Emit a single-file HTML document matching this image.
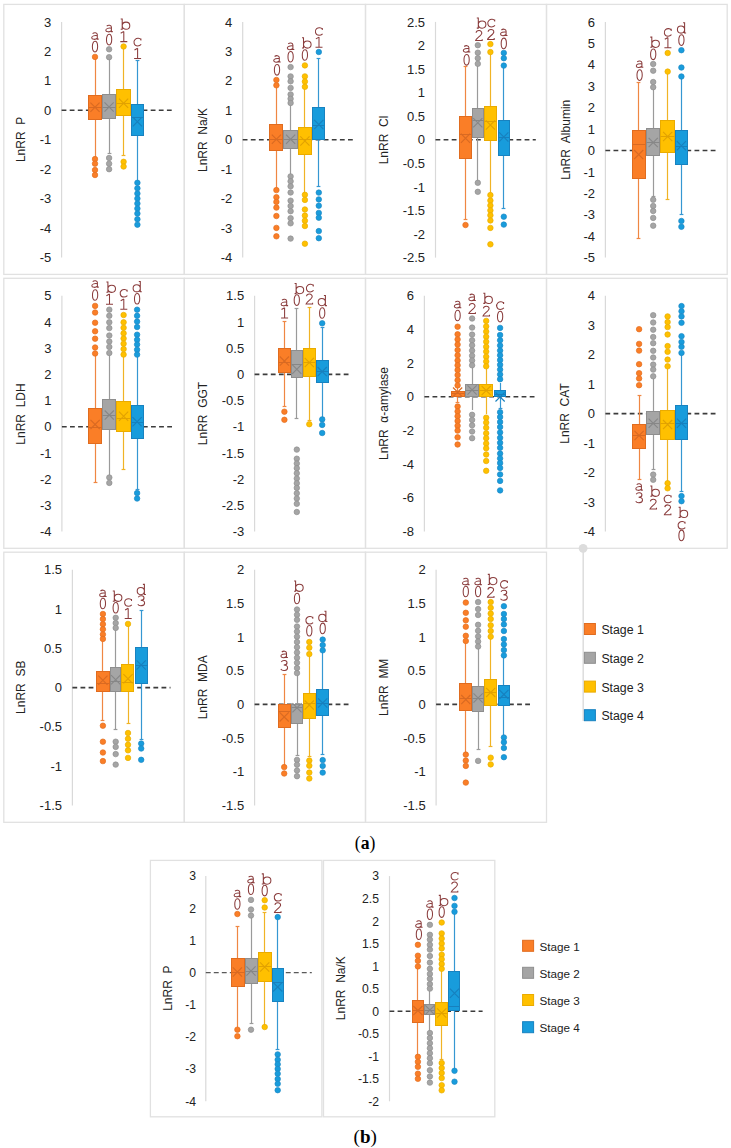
<!DOCTYPE html>
<html><head><meta charset="utf-8"><style>
html,body{margin:0;padding:0;background:#fff;}
svg{display:block;}
.tk{font-family:"Liberation Sans",sans-serif;fill:#222222;text-anchor:end;}
.tt{font-family:"Liberation Sans",sans-serif;font-size:12px;fill:#222222;white-space:pre;}
.lg{font-family:"Liberation Sans",sans-serif;fill:#222222;}
.cap{font-family:"Liberation Serif",serif;font-size:19px;fill:#000;}
.gl path{fill:none;stroke:#8A3C3C;stroke-width:1.05;stroke-linecap:butt;}
</style></head><body>
<svg width="731" height="1148" viewBox="0 0 731 1148">
<rect width="731" height="1148" fill="#fff"/>
<rect x="3.8" y="4.4" width="180.5" height="270.0" fill="none" stroke="#E1E1E1" stroke-width="1.3"/>
<line x1="61.6" y1="21.9" x2="61.6" y2="257.59999999999997" stroke="#D9D9D9" stroke-width="1.2"/>
<text x="51.2" y="26.5" class="tk" font-size="13">3</text>
<text x="51.2" y="56.0" class="tk" font-size="13">2</text>
<text x="51.2" y="85.4" class="tk" font-size="13">1</text>
<text x="51.2" y="114.9" class="tk" font-size="13">0</text>
<text x="51.2" y="144.4" class="tk" font-size="13">-1</text>
<text x="51.2" y="173.8" class="tk" font-size="13">-2</text>
<text x="51.2" y="203.3" class="tk" font-size="13">-3</text>
<text x="51.2" y="232.7" class="tk" font-size="13">-4</text>
<text x="51.2" y="262.2" class="tk" font-size="13">-5</text>
<line x1="61.6" y1="110.3" x2="173" y2="110.3" stroke="#3C3C3C" stroke-width="1.6" stroke-dasharray="4.8 3.3"/>
<text transform="translate(25.2,139.4) rotate(-90)" class="tt" text-anchor="middle">LnRR  P</text>
<line x1="95.5" y1="95" x2="95.5" y2="57.5" stroke="#EF8743" stroke-width="1.2"/>
<line x1="95.5" y1="120" x2="95.5" y2="158.5" stroke="#EF8743" stroke-width="1.2"/>
<rect x="88.5" y="95.5" width="13" height="24" fill="#FA7E27" stroke="#E06C1F" stroke-width="1"/>
<line x1="88.5" y1="107.5" x2="101.5" y2="107.5" stroke="#D96A22" stroke-width="1"/>
<path d="M90.4,102.6 L99.6,111.8 M90.4,111.8 L99.6,102.6" stroke="#D96A22" stroke-width="1.15" fill="none"/>
<circle cx="95.0" cy="56.9" r="2.75" fill="#FA7E27" stroke="#E26E20" stroke-width="0.7"/>
<circle cx="95.0" cy="159.1" r="2.75" fill="#FA7E27" stroke="#E26E20" stroke-width="0.7"/>
<circle cx="95.0" cy="163.7" r="2.75" fill="#FA7E27" stroke="#E26E20" stroke-width="0.7"/>
<circle cx="95.0" cy="170.0" r="2.75" fill="#FA7E27" stroke="#E26E20" stroke-width="0.7"/>
<circle cx="95.0" cy="175.0" r="2.75" fill="#FA7E27" stroke="#E26E20" stroke-width="0.7"/>
<line x1="109.5" y1="94" x2="109.5" y2="57.2" stroke="#9A9A9A" stroke-width="1.2"/>
<line x1="109.5" y1="119" x2="109.5" y2="153.9" stroke="#9A9A9A" stroke-width="1.2"/>
<line x1="107.6" y1="153.5" x2="111.4" y2="153.5" stroke="#9A9A9A" stroke-width="1.2"/>
<rect x="102.5" y="94.5" width="13" height="24" fill="#A5A5A5" stroke="#8E8E8E" stroke-width="1"/>
<line x1="102.5" y1="107.5" x2="115.5" y2="107.5" stroke="#878787" stroke-width="1"/>
<path d="M104.5,102.4 L113.7,111.6 M104.5,111.6 L113.7,102.4" stroke="#878787" stroke-width="1.15" fill="none"/>
<circle cx="109.1" cy="49.3" r="2.75" fill="#A5A5A5" stroke="#8F8F8F" stroke-width="0.7"/>
<circle cx="109.1" cy="57.2" r="2.75" fill="#A5A5A5" stroke="#8F8F8F" stroke-width="0.7"/>
<circle cx="109.1" cy="158.0" r="2.75" fill="#A5A5A5" stroke="#8F8F8F" stroke-width="0.7"/>
<circle cx="109.1" cy="163.7" r="2.75" fill="#A5A5A5" stroke="#8F8F8F" stroke-width="0.7"/>
<circle cx="109.1" cy="169.2" r="2.75" fill="#A5A5A5" stroke="#8F8F8F" stroke-width="0.7"/>
<line x1="123.5" y1="89" x2="123.5" y2="46.5" stroke="#F0B325" stroke-width="1.2"/>
<line x1="123.5" y1="116" x2="123.5" y2="155.2" stroke="#F0B325" stroke-width="1.2"/>
<line x1="121.6" y1="155.5" x2="125.4" y2="155.5" stroke="#F0B325" stroke-width="1.2"/>
<rect x="116.5" y="89.5" width="14" height="26" fill="#FFC000" stroke="#EAAB00" stroke-width="1"/>
<line x1="116.5" y1="103.5" x2="130.5" y2="103.5" stroke="#E2A200" stroke-width="1"/>
<path d="M119.0,98.7 L128.2,107.9 M119.0,107.9 L128.2,98.7" stroke="#E2A200" stroke-width="1.15" fill="none"/>
<circle cx="123.6" cy="46.5" r="2.75" fill="#FFC000" stroke="#E8AE00" stroke-width="0.7"/>
<circle cx="123.6" cy="161.8" r="2.75" fill="#FFC000" stroke="#E8AE00" stroke-width="0.7"/>
<circle cx="123.6" cy="166.5" r="2.75" fill="#FFC000" stroke="#E8AE00" stroke-width="0.7"/>
<line x1="137.5" y1="104" x2="137.5" y2="60.9" stroke="#3597D2" stroke-width="1.2"/>
<line x1="137.5" y1="136" x2="137.5" y2="182.8" stroke="#3597D2" stroke-width="1.2"/>
<line x1="135.6" y1="60.5" x2="139.4" y2="60.5" stroke="#3597D2" stroke-width="1.2"/>
<rect x="131.5" y="104.5" width="12" height="31" fill="#189CDC" stroke="#1882C0" stroke-width="1"/>
<line x1="131.5" y1="117.5" x2="143.5" y2="117.5" stroke="#1780BE" stroke-width="1"/>
<path d="M132.8,117.1 L142.0,126.3 M132.8,126.3 L142.0,117.1" stroke="#1780BE" stroke-width="1.15" fill="none"/>
<circle cx="137.4" cy="182.8" r="2.75" fill="#189CDC" stroke="#1C88C4" stroke-width="0.7"/>
<circle cx="137.4" cy="188.3" r="2.75" fill="#189CDC" stroke="#1C88C4" stroke-width="0.7"/>
<circle cx="137.4" cy="193.6" r="2.75" fill="#189CDC" stroke="#1C88C4" stroke-width="0.7"/>
<circle cx="137.4" cy="198.6" r="2.75" fill="#189CDC" stroke="#1C88C4" stroke-width="0.7"/>
<circle cx="137.4" cy="203.6" r="2.75" fill="#189CDC" stroke="#1C88C4" stroke-width="0.7"/>
<circle cx="137.4" cy="208.6" r="2.75" fill="#189CDC" stroke="#1C88C4" stroke-width="0.7"/>
<circle cx="137.4" cy="213.6" r="2.75" fill="#189CDC" stroke="#1C88C4" stroke-width="0.7"/>
<circle cx="137.4" cy="219.2" r="2.75" fill="#189CDC" stroke="#1C88C4" stroke-width="0.7"/>
<circle cx="137.4" cy="224.7" r="2.75" fill="#189CDC" stroke="#1C88C4" stroke-width="0.7"/>
<rect x="184.3" y="4.4" width="181.2" height="270.0" fill="none" stroke="#E1E1E1" stroke-width="1.3"/>
<line x1="242.7" y1="21.9" x2="242.7" y2="257.59999999999997" stroke="#D9D9D9" stroke-width="1.2"/>
<text x="232.3" y="26.5" class="tk" font-size="13">4</text>
<text x="232.3" y="56.0" class="tk" font-size="13">3</text>
<text x="232.3" y="85.4" class="tk" font-size="13">2</text>
<text x="232.3" y="114.9" class="tk" font-size="13">1</text>
<text x="232.3" y="144.4" class="tk" font-size="13">0</text>
<text x="232.3" y="173.8" class="tk" font-size="13">-1</text>
<text x="232.3" y="203.3" class="tk" font-size="13">-2</text>
<text x="232.3" y="232.7" class="tk" font-size="13">-3</text>
<text x="232.3" y="262.2" class="tk" font-size="13">-4</text>
<line x1="242.7" y1="139.7" x2="354.8" y2="139.7" stroke="#3C3C3C" stroke-width="1.6" stroke-dasharray="4.8 3.3"/>
<text transform="translate(206.9,140.0) rotate(-90)" class="tt" text-anchor="middle">LnRR  Na/K</text>
<line x1="276.5" y1="124" x2="276.5" y2="85.3" stroke="#EF8743" stroke-width="1.2"/>
<line x1="276.5" y1="151" x2="276.5" y2="190.1" stroke="#EF8743" stroke-width="1.2"/>
<rect x="269.5" y="124.5" width="13" height="26" fill="#FA7E27" stroke="#E06C1F" stroke-width="1"/>
<line x1="269.5" y1="139.5" x2="282.5" y2="139.5" stroke="#D96A22" stroke-width="1"/>
<path d="M271.8,134.7 L281.0,143.9 M271.8,143.9 L281.0,134.7" stroke="#D96A22" stroke-width="1.15" fill="none"/>
<circle cx="276.4" cy="80.0" r="2.75" fill="#FA7E27" stroke="#E26E20" stroke-width="0.7"/>
<circle cx="276.4" cy="85.3" r="2.75" fill="#FA7E27" stroke="#E26E20" stroke-width="0.7"/>
<circle cx="276.4" cy="190.1" r="2.75" fill="#FA7E27" stroke="#E26E20" stroke-width="0.7"/>
<circle cx="276.4" cy="197.2" r="2.75" fill="#FA7E27" stroke="#E26E20" stroke-width="0.7"/>
<circle cx="276.4" cy="201.9" r="2.75" fill="#FA7E27" stroke="#E26E20" stroke-width="0.7"/>
<circle cx="276.4" cy="207.6" r="2.75" fill="#FA7E27" stroke="#E26E20" stroke-width="0.7"/>
<circle cx="276.4" cy="216.0" r="2.75" fill="#FA7E27" stroke="#E26E20" stroke-width="0.7"/>
<circle cx="276.4" cy="227.9" r="2.75" fill="#FA7E27" stroke="#E26E20" stroke-width="0.7"/>
<circle cx="276.4" cy="236.3" r="2.75" fill="#FA7E27" stroke="#E26E20" stroke-width="0.7"/>
<line x1="290.5" y1="130" x2="290.5" y2="103" stroke="#9A9A9A" stroke-width="1.2"/>
<line x1="290.5" y1="149" x2="290.5" y2="176.4" stroke="#9A9A9A" stroke-width="1.2"/>
<rect x="283.5" y="130.5" width="14" height="18" fill="#A5A5A5" stroke="#8E8E8E" stroke-width="1"/>
<line x1="283.5" y1="139.5" x2="297.5" y2="139.5" stroke="#878787" stroke-width="1"/>
<path d="M286.0,134.7 L295.2,143.9 M286.0,143.9 L295.2,134.7" stroke="#878787" stroke-width="1.15" fill="none"/>
<circle cx="290.6" cy="67.1" r="2.75" fill="#A5A5A5" stroke="#8F8F8F" stroke-width="0.7"/>
<circle cx="290.6" cy="76.4" r="2.75" fill="#A5A5A5" stroke="#8F8F8F" stroke-width="0.7"/>
<circle cx="290.6" cy="81.3" r="2.75" fill="#A5A5A5" stroke="#8F8F8F" stroke-width="0.7"/>
<circle cx="290.6" cy="87.9" r="2.75" fill="#A5A5A5" stroke="#8F8F8F" stroke-width="0.7"/>
<circle cx="290.6" cy="94.4" r="2.75" fill="#A5A5A5" stroke="#8F8F8F" stroke-width="0.7"/>
<circle cx="290.6" cy="98.8" r="2.75" fill="#A5A5A5" stroke="#8F8F8F" stroke-width="0.7"/>
<circle cx="290.6" cy="103.0" r="2.75" fill="#A5A5A5" stroke="#8F8F8F" stroke-width="0.7"/>
<circle cx="290.6" cy="176.4" r="2.75" fill="#A5A5A5" stroke="#8F8F8F" stroke-width="0.7"/>
<circle cx="290.6" cy="181.3" r="2.75" fill="#A5A5A5" stroke="#8F8F8F" stroke-width="0.7"/>
<circle cx="290.6" cy="186.3" r="2.75" fill="#A5A5A5" stroke="#8F8F8F" stroke-width="0.7"/>
<circle cx="290.6" cy="192.5" r="2.75" fill="#A5A5A5" stroke="#8F8F8F" stroke-width="0.7"/>
<circle cx="290.6" cy="200.7" r="2.75" fill="#A5A5A5" stroke="#8F8F8F" stroke-width="0.7"/>
<circle cx="290.6" cy="206.0" r="2.75" fill="#A5A5A5" stroke="#8F8F8F" stroke-width="0.7"/>
<circle cx="290.6" cy="211.2" r="2.75" fill="#A5A5A5" stroke="#8F8F8F" stroke-width="0.7"/>
<circle cx="290.6" cy="218.2" r="2.75" fill="#A5A5A5" stroke="#8F8F8F" stroke-width="0.7"/>
<circle cx="290.6" cy="223.3" r="2.75" fill="#A5A5A5" stroke="#8F8F8F" stroke-width="0.7"/>
<circle cx="290.6" cy="238.6" r="2.75" fill="#A5A5A5" stroke="#8F8F8F" stroke-width="0.7"/>
<line x1="304.5" y1="127" x2="304.5" y2="86.8" stroke="#F0B325" stroke-width="1.2"/>
<line x1="304.5" y1="155" x2="304.5" y2="194.8" stroke="#F0B325" stroke-width="1.2"/>
<rect x="298.5" y="127.5" width="13" height="27" fill="#FFC000" stroke="#EAAB00" stroke-width="1"/>
<line x1="298.5" y1="139.5" x2="311.5" y2="139.5" stroke="#E2A200" stroke-width="1"/>
<path d="M300.3,136.4 L309.5,145.6 M300.3,145.6 L309.5,136.4" stroke="#E2A200" stroke-width="1.15" fill="none"/>
<circle cx="304.9" cy="65.4" r="2.75" fill="#FFC000" stroke="#E8AE00" stroke-width="0.7"/>
<circle cx="304.9" cy="76.4" r="2.75" fill="#FFC000" stroke="#E8AE00" stroke-width="0.7"/>
<circle cx="304.9" cy="81.6" r="2.75" fill="#FFC000" stroke="#E8AE00" stroke-width="0.7"/>
<circle cx="304.9" cy="86.8" r="2.75" fill="#FFC000" stroke="#E8AE00" stroke-width="0.7"/>
<circle cx="304.9" cy="194.8" r="2.75" fill="#FFC000" stroke="#E8AE00" stroke-width="0.7"/>
<circle cx="304.9" cy="199.9" r="2.75" fill="#FFC000" stroke="#E8AE00" stroke-width="0.7"/>
<circle cx="304.9" cy="209.5" r="2.75" fill="#FFC000" stroke="#E8AE00" stroke-width="0.7"/>
<circle cx="304.9" cy="215.6" r="2.75" fill="#FFC000" stroke="#E8AE00" stroke-width="0.7"/>
<circle cx="304.9" cy="220.7" r="2.75" fill="#FFC000" stroke="#E8AE00" stroke-width="0.7"/>
<circle cx="304.9" cy="226.0" r="2.75" fill="#FFC000" stroke="#E8AE00" stroke-width="0.7"/>
<circle cx="304.9" cy="243.7" r="2.75" fill="#FFC000" stroke="#E8AE00" stroke-width="0.7"/>
<line x1="318.5" y1="107" x2="318.5" y2="58.9" stroke="#3597D2" stroke-width="1.2"/>
<line x1="318.5" y1="140" x2="318.5" y2="186.8" stroke="#3597D2" stroke-width="1.2"/>
<line x1="316.6" y1="58.5" x2="320.4" y2="58.5" stroke="#3597D2" stroke-width="1.2"/>
<line x1="316.6" y1="186.5" x2="320.4" y2="186.5" stroke="#3597D2" stroke-width="1.2"/>
<rect x="312.5" y="107.5" width="12" height="32" fill="#189CDC" stroke="#1882C0" stroke-width="1"/>
<line x1="312.5" y1="125.5" x2="324.5" y2="125.5" stroke="#1780BE" stroke-width="1"/>
<path d="M314.2,119.9 L323.4,129.1 M314.2,129.1 L323.4,119.9" stroke="#1780BE" stroke-width="1.15" fill="none"/>
<circle cx="318.8" cy="52.0" r="2.75" fill="#189CDC" stroke="#1C88C4" stroke-width="0.7"/>
<circle cx="318.8" cy="192.6" r="2.75" fill="#189CDC" stroke="#1C88C4" stroke-width="0.7"/>
<circle cx="318.8" cy="199.4" r="2.75" fill="#189CDC" stroke="#1C88C4" stroke-width="0.7"/>
<circle cx="318.8" cy="205.7" r="2.75" fill="#189CDC" stroke="#1C88C4" stroke-width="0.7"/>
<circle cx="318.8" cy="212.9" r="2.75" fill="#189CDC" stroke="#1C88C4" stroke-width="0.7"/>
<circle cx="318.8" cy="217.7" r="2.75" fill="#189CDC" stroke="#1C88C4" stroke-width="0.7"/>
<circle cx="318.8" cy="231.1" r="2.75" fill="#189CDC" stroke="#1C88C4" stroke-width="0.7"/>
<circle cx="318.8" cy="238.2" r="2.75" fill="#189CDC" stroke="#1C88C4" stroke-width="0.7"/>
<rect x="365.5" y="4.4" width="181.0" height="270.0" fill="none" stroke="#E1E1E1" stroke-width="1.3"/>
<line x1="435.5" y1="21.9" x2="435.5" y2="257.59999999999997" stroke="#D9D9D9" stroke-width="1.2"/>
<text x="425.1" y="26.5" class="tk" font-size="13">2.5</text>
<text x="425.1" y="50.1" class="tk" font-size="13">2</text>
<text x="425.1" y="73.6" class="tk" font-size="13">1.5</text>
<text x="425.1" y="97.2" class="tk" font-size="13">1</text>
<text x="425.1" y="120.8" class="tk" font-size="13">0.5</text>
<text x="425.1" y="144.4" class="tk" font-size="13">0</text>
<text x="425.1" y="167.9" class="tk" font-size="13">-0.5</text>
<text x="425.1" y="191.5" class="tk" font-size="13">-1</text>
<text x="425.1" y="215.1" class="tk" font-size="13">-1.5</text>
<text x="425.1" y="238.6" class="tk" font-size="13">-2</text>
<text x="425.1" y="262.2" class="tk" font-size="13">-2.5</text>
<line x1="435.5" y1="139.7" x2="535.8" y2="139.7" stroke="#3C3C3C" stroke-width="1.6" stroke-dasharray="4.8 3.3"/>
<text transform="translate(387.9,140.0) rotate(-90)" class="tt" text-anchor="middle">LnRR  Cl</text>
<line x1="465.5" y1="116" x2="465.5" y2="66.7" stroke="#EF8743" stroke-width="1.2"/>
<line x1="465.5" y1="159" x2="465.5" y2="219.2" stroke="#EF8743" stroke-width="1.2"/>
<line x1="463.6" y1="66.5" x2="467.4" y2="66.5" stroke="#EF8743" stroke-width="1.2"/>
<line x1="463.6" y1="219.5" x2="467.4" y2="219.5" stroke="#EF8743" stroke-width="1.2"/>
<rect x="459.5" y="116.5" width="12" height="42" fill="#FA7E27" stroke="#E06C1F" stroke-width="1"/>
<line x1="459.5" y1="134.5" x2="471.5" y2="134.5" stroke="#D96A22" stroke-width="1"/>
<path d="M460.9,133.6 L470.1,142.8 M460.9,142.8 L470.1,133.6" stroke="#D96A22" stroke-width="1.15" fill="none"/>
<circle cx="465.5" cy="225.0" r="2.75" fill="#FA7E27" stroke="#E26E20" stroke-width="0.7"/>
<line x1="477.5" y1="108" x2="477.5" y2="63.8" stroke="#9A9A9A" stroke-width="1.2"/>
<line x1="477.5" y1="138" x2="477.5" y2="182.8" stroke="#9A9A9A" stroke-width="1.2"/>
<rect x="472.5" y="108.5" width="11" height="29" fill="#A5A5A5" stroke="#8E8E8E" stroke-width="1"/>
<line x1="472.5" y1="120.5" x2="483.5" y2="120.5" stroke="#878787" stroke-width="1"/>
<path d="M473.2,118.2 L482.4,127.4 M473.2,127.4 L482.4,118.2" stroke="#878787" stroke-width="1.15" fill="none"/>
<circle cx="477.8" cy="45.2" r="2.75" fill="#A5A5A5" stroke="#8F8F8F" stroke-width="0.7"/>
<circle cx="477.8" cy="52.7" r="2.75" fill="#A5A5A5" stroke="#8F8F8F" stroke-width="0.7"/>
<circle cx="477.8" cy="58.2" r="2.75" fill="#A5A5A5" stroke="#8F8F8F" stroke-width="0.7"/>
<circle cx="477.8" cy="63.8" r="2.75" fill="#A5A5A5" stroke="#8F8F8F" stroke-width="0.7"/>
<circle cx="477.8" cy="182.8" r="2.75" fill="#A5A5A5" stroke="#8F8F8F" stroke-width="0.7"/>
<circle cx="477.8" cy="191.8" r="2.75" fill="#A5A5A5" stroke="#8F8F8F" stroke-width="0.7"/>
<line x1="490.5" y1="106" x2="490.5" y2="52.1" stroke="#F0B325" stroke-width="1.2"/>
<line x1="490.5" y1="141" x2="490.5" y2="195.1" stroke="#F0B325" stroke-width="1.2"/>
<rect x="484.5" y="106.5" width="12" height="34" fill="#FFC000" stroke="#EAAB00" stroke-width="1"/>
<line x1="484.5" y1="121.5" x2="496.5" y2="121.5" stroke="#E2A200" stroke-width="1"/>
<path d="M485.8,120.4 L495.0,129.6 M485.8,129.6 L495.0,120.4" stroke="#E2A200" stroke-width="1.15" fill="none"/>
<circle cx="490.4" cy="44.1" r="2.75" fill="#FFC000" stroke="#E8AE00" stroke-width="0.7"/>
<circle cx="490.4" cy="52.1" r="2.75" fill="#FFC000" stroke="#E8AE00" stroke-width="0.7"/>
<circle cx="490.4" cy="195.1" r="2.75" fill="#FFC000" stroke="#E8AE00" stroke-width="0.7"/>
<circle cx="490.4" cy="200.6" r="2.75" fill="#FFC000" stroke="#E8AE00" stroke-width="0.7"/>
<circle cx="490.4" cy="205.5" r="2.75" fill="#FFC000" stroke="#E8AE00" stroke-width="0.7"/>
<circle cx="490.4" cy="210.4" r="2.75" fill="#FFC000" stroke="#E8AE00" stroke-width="0.7"/>
<circle cx="490.4" cy="215.3" r="2.75" fill="#FFC000" stroke="#E8AE00" stroke-width="0.7"/>
<circle cx="490.4" cy="220.5" r="2.75" fill="#FFC000" stroke="#E8AE00" stroke-width="0.7"/>
<circle cx="490.4" cy="227.9" r="2.75" fill="#FFC000" stroke="#E8AE00" stroke-width="0.7"/>
<circle cx="490.4" cy="244.3" r="2.75" fill="#FFC000" stroke="#E8AE00" stroke-width="0.7"/>
<line x1="503.5" y1="120" x2="503.5" y2="65.6" stroke="#3597D2" stroke-width="1.2"/>
<line x1="503.5" y1="156" x2="503.5" y2="208.2" stroke="#3597D2" stroke-width="1.2"/>
<line x1="501.6" y1="208.5" x2="505.4" y2="208.5" stroke="#3597D2" stroke-width="1.2"/>
<rect x="498.5" y="120.5" width="11" height="35" fill="#189CDC" stroke="#1882C0" stroke-width="1"/>
<line x1="498.5" y1="137.5" x2="509.5" y2="137.5" stroke="#1780BE" stroke-width="1"/>
<path d="M499.2,132.4 L508.4,141.6 M499.2,141.6 L508.4,132.4" stroke="#1780BE" stroke-width="1.15" fill="none"/>
<circle cx="503.8" cy="52.9" r="2.75" fill="#189CDC" stroke="#1C88C4" stroke-width="0.7"/>
<circle cx="503.8" cy="58.2" r="2.75" fill="#189CDC" stroke="#1C88C4" stroke-width="0.7"/>
<circle cx="503.8" cy="65.6" r="2.75" fill="#189CDC" stroke="#1C88C4" stroke-width="0.7"/>
<circle cx="503.8" cy="216.7" r="2.75" fill="#189CDC" stroke="#1C88C4" stroke-width="0.7"/>
<circle cx="503.8" cy="224.6" r="2.75" fill="#189CDC" stroke="#1C88C4" stroke-width="0.7"/>
<rect x="546.5" y="4.4" width="180.70000000000005" height="270.0" fill="none" stroke="#E1E1E1" stroke-width="1.3"/>
<line x1="605.4" y1="21.9" x2="605.4" y2="257.59999999999997" stroke="#D9D9D9" stroke-width="1.2"/>
<text x="595.0" y="26.5" class="tk" font-size="13">6</text>
<text x="595.0" y="47.9" class="tk" font-size="13">5</text>
<text x="595.0" y="69.4" class="tk" font-size="13">4</text>
<text x="595.0" y="90.8" class="tk" font-size="13">3</text>
<text x="595.0" y="112.2" class="tk" font-size="13">2</text>
<text x="595.0" y="133.6" class="tk" font-size="13">1</text>
<text x="595.0" y="155.1" class="tk" font-size="13">0</text>
<text x="595.0" y="176.5" class="tk" font-size="13">-1</text>
<text x="595.0" y="197.9" class="tk" font-size="13">-2</text>
<text x="595.0" y="219.3" class="tk" font-size="13">-3</text>
<text x="595.0" y="240.8" class="tk" font-size="13">-4</text>
<text x="595.0" y="262.2" class="tk" font-size="13">-5</text>
<line x1="605.4" y1="150.5" x2="716.8" y2="150.5" stroke="#3C3C3C" stroke-width="1.6" stroke-dasharray="4.8 3.3"/>
<text transform="translate(569.6,139.8) rotate(-90)" class="tt" text-anchor="middle">LnRR  Albumin</text>
<line x1="638.5" y1="130" x2="638.5" y2="82.8" stroke="#EF8743" stroke-width="1.2"/>
<line x1="638.5" y1="179" x2="638.5" y2="238.7" stroke="#EF8743" stroke-width="1.2"/>
<line x1="636.6" y1="82.5" x2="640.4" y2="82.5" stroke="#EF8743" stroke-width="1.2"/>
<line x1="636.6" y1="238.5" x2="640.4" y2="238.5" stroke="#EF8743" stroke-width="1.2"/>
<rect x="632.5" y="130.5" width="13" height="48" fill="#FA7E27" stroke="#E06C1F" stroke-width="1"/>
<line x1="632.5" y1="144.5" x2="645.5" y2="144.5" stroke="#D96A22" stroke-width="1"/>
<path d="M634.1,150.0 L643.3,159.2 M634.1,159.2 L643.3,150.0" stroke="#D96A22" stroke-width="1.15" fill="none"/>
<line x1="653.5" y1="128" x2="653.5" y2="87.2" stroke="#9A9A9A" stroke-width="1.2"/>
<line x1="653.5" y1="156" x2="653.5" y2="196.5" stroke="#9A9A9A" stroke-width="1.2"/>
<line x1="651.6" y1="196.5" x2="655.4" y2="196.5" stroke="#9A9A9A" stroke-width="1.2"/>
<rect x="646.5" y="128.5" width="13" height="27" fill="#A5A5A5" stroke="#8E8E8E" stroke-width="1"/>
<line x1="646.5" y1="142.5" x2="659.5" y2="142.5" stroke="#878787" stroke-width="1"/>
<path d="M648.6,137.9 L657.8,147.1 M648.6,147.1 L657.8,137.9" stroke="#878787" stroke-width="1.15" fill="none"/>
<circle cx="653.2" cy="64.0" r="2.75" fill="#A5A5A5" stroke="#8F8F8F" stroke-width="0.7"/>
<circle cx="653.2" cy="70.7" r="2.75" fill="#A5A5A5" stroke="#8F8F8F" stroke-width="0.7"/>
<circle cx="653.2" cy="82.0" r="2.75" fill="#A5A5A5" stroke="#8F8F8F" stroke-width="0.7"/>
<circle cx="653.2" cy="87.2" r="2.75" fill="#A5A5A5" stroke="#8F8F8F" stroke-width="0.7"/>
<circle cx="653.2" cy="199.8" r="2.75" fill="#A5A5A5" stroke="#8F8F8F" stroke-width="0.7"/>
<circle cx="653.2" cy="206.0" r="2.75" fill="#A5A5A5" stroke="#8F8F8F" stroke-width="0.7"/>
<circle cx="653.2" cy="211.0" r="2.75" fill="#A5A5A5" stroke="#8F8F8F" stroke-width="0.7"/>
<circle cx="653.2" cy="217.9" r="2.75" fill="#A5A5A5" stroke="#8F8F8F" stroke-width="0.7"/>
<circle cx="653.2" cy="225.7" r="2.75" fill="#A5A5A5" stroke="#8F8F8F" stroke-width="0.7"/>
<line x1="667.5" y1="120" x2="667.5" y2="71.6" stroke="#F0B325" stroke-width="1.2"/>
<line x1="667.5" y1="153" x2="667.5" y2="199.3" stroke="#F0B325" stroke-width="1.2"/>
<line x1="665.6" y1="199.5" x2="669.4" y2="199.5" stroke="#F0B325" stroke-width="1.2"/>
<rect x="660.5" y="120.5" width="14" height="32" fill="#FFC000" stroke="#EAAB00" stroke-width="1"/>
<line x1="660.5" y1="136.5" x2="674.5" y2="136.5" stroke="#E2A200" stroke-width="1"/>
<path d="M663.1,131.9 L672.3,141.1 M663.1,141.1 L672.3,131.9" stroke="#E2A200" stroke-width="1.15" fill="none"/>
<circle cx="667.7" cy="53.0" r="2.75" fill="#FFC000" stroke="#E8AE00" stroke-width="0.7"/>
<circle cx="667.7" cy="71.6" r="2.75" fill="#FFC000" stroke="#E8AE00" stroke-width="0.7"/>
<line x1="681.5" y1="130" x2="681.5" y2="76.5" stroke="#3597D2" stroke-width="1.2"/>
<line x1="681.5" y1="165" x2="681.5" y2="214.8" stroke="#3597D2" stroke-width="1.2"/>
<line x1="679.6" y1="214.5" x2="683.4" y2="214.5" stroke="#3597D2" stroke-width="1.2"/>
<rect x="675.5" y="130.5" width="12" height="34" fill="#189CDC" stroke="#1882C0" stroke-width="1"/>
<line x1="675.5" y1="146.5" x2="687.5" y2="146.5" stroke="#1780BE" stroke-width="1"/>
<path d="M676.8,141.2 L686.0,150.4 M676.8,150.4 L686.0,141.2" stroke="#1780BE" stroke-width="1.15" fill="none"/>
<circle cx="681.4" cy="50.2" r="2.75" fill="#189CDC" stroke="#1C88C4" stroke-width="0.7"/>
<circle cx="681.4" cy="67.5" r="2.75" fill="#189CDC" stroke="#1C88C4" stroke-width="0.7"/>
<circle cx="681.4" cy="76.5" r="2.75" fill="#189CDC" stroke="#1C88C4" stroke-width="0.7"/>
<circle cx="681.4" cy="221.0" r="2.75" fill="#189CDC" stroke="#1C88C4" stroke-width="0.7"/>
<circle cx="681.4" cy="226.8" r="2.75" fill="#189CDC" stroke="#1C88C4" stroke-width="0.7"/>
<rect x="3.8" y="278.3" width="180.5" height="269.99999999999994" fill="none" stroke="#E1E1E1" stroke-width="1.3"/>
<line x1="61.9" y1="295.8" x2="61.9" y2="531.5" stroke="#D9D9D9" stroke-width="1.2"/>
<text x="51.5" y="300.4" class="tk" font-size="13">5</text>
<text x="51.5" y="326.6" class="tk" font-size="13">4</text>
<text x="51.5" y="352.8" class="tk" font-size="13">3</text>
<text x="51.5" y="379.0" class="tk" font-size="13">2</text>
<text x="51.5" y="405.2" class="tk" font-size="13">1</text>
<text x="51.5" y="431.3" class="tk" font-size="13">0</text>
<text x="51.5" y="457.5" class="tk" font-size="13">-1</text>
<text x="51.5" y="483.7" class="tk" font-size="13">-2</text>
<text x="51.5" y="509.9" class="tk" font-size="13">-3</text>
<text x="51.5" y="536.1" class="tk" font-size="13">-4</text>
<line x1="61.9" y1="426.7" x2="173" y2="426.7" stroke="#3C3C3C" stroke-width="1.6" stroke-dasharray="4.8 3.3"/>
<text transform="translate(25.2,414.0) rotate(-90)" class="tt" text-anchor="middle">LnRR  LDH</text>
<line x1="95.5" y1="408" x2="95.5" y2="353.5" stroke="#EF8743" stroke-width="1.2"/>
<line x1="95.5" y1="444" x2="95.5" y2="482.0" stroke="#EF8743" stroke-width="1.2"/>
<line x1="93.6" y1="482.5" x2="97.4" y2="482.5" stroke="#EF8743" stroke-width="1.2"/>
<rect x="88.5" y="408.5" width="13" height="35" fill="#FA7E27" stroke="#E06C1F" stroke-width="1"/>
<line x1="88.5" y1="427.5" x2="101.5" y2="427.5" stroke="#D96A22" stroke-width="1"/>
<path d="M90.5,419.8 L99.7,429.0 M90.5,429.0 L99.7,419.8" stroke="#D96A22" stroke-width="1.15" fill="none"/>
<circle cx="95.1" cy="305.9" r="2.75" fill="#FA7E27" stroke="#E26E20" stroke-width="0.7"/>
<circle cx="95.1" cy="312.5" r="2.75" fill="#FA7E27" stroke="#E26E20" stroke-width="0.7"/>
<circle cx="95.1" cy="322.7" r="2.75" fill="#FA7E27" stroke="#E26E20" stroke-width="0.7"/>
<circle cx="95.1" cy="331.3" r="2.75" fill="#FA7E27" stroke="#E26E20" stroke-width="0.7"/>
<circle cx="95.1" cy="338.7" r="2.75" fill="#FA7E27" stroke="#E26E20" stroke-width="0.7"/>
<circle cx="95.1" cy="347.5" r="2.75" fill="#FA7E27" stroke="#E26E20" stroke-width="0.7"/>
<circle cx="95.1" cy="353.5" r="2.75" fill="#FA7E27" stroke="#E26E20" stroke-width="0.7"/>
<line x1="109.5" y1="399" x2="109.5" y2="353.0" stroke="#9A9A9A" stroke-width="1.2"/>
<line x1="109.5" y1="430" x2="109.5" y2="477.5" stroke="#9A9A9A" stroke-width="1.2"/>
<rect x="102.5" y="399.5" width="13" height="30" fill="#A5A5A5" stroke="#8E8E8E" stroke-width="1"/>
<line x1="102.5" y1="415.5" x2="115.5" y2="415.5" stroke="#878787" stroke-width="1"/>
<path d="M104.7,410.5 L113.9,419.7 M104.7,419.7 L113.9,410.5" stroke="#878787" stroke-width="1.15" fill="none"/>
<circle cx="109.3" cy="309.7" r="2.75" fill="#A5A5A5" stroke="#8F8F8F" stroke-width="0.7"/>
<circle cx="109.3" cy="315.8" r="2.75" fill="#A5A5A5" stroke="#8F8F8F" stroke-width="0.7"/>
<circle cx="109.3" cy="322.3" r="2.75" fill="#A5A5A5" stroke="#8F8F8F" stroke-width="0.7"/>
<circle cx="109.3" cy="328.1" r="2.75" fill="#A5A5A5" stroke="#8F8F8F" stroke-width="0.7"/>
<circle cx="109.3" cy="335.5" r="2.75" fill="#A5A5A5" stroke="#8F8F8F" stroke-width="0.7"/>
<circle cx="109.3" cy="341.5" r="2.75" fill="#A5A5A5" stroke="#8F8F8F" stroke-width="0.7"/>
<circle cx="109.3" cy="346.9" r="2.75" fill="#A5A5A5" stroke="#8F8F8F" stroke-width="0.7"/>
<circle cx="109.3" cy="353.0" r="2.75" fill="#A5A5A5" stroke="#8F8F8F" stroke-width="0.7"/>
<circle cx="109.3" cy="477.5" r="2.75" fill="#A5A5A5" stroke="#8F8F8F" stroke-width="0.7"/>
<circle cx="109.3" cy="482.9" r="2.75" fill="#A5A5A5" stroke="#8F8F8F" stroke-width="0.7"/>
<line x1="123.5" y1="401" x2="123.5" y2="354.6" stroke="#F0B325" stroke-width="1.2"/>
<line x1="123.5" y1="432" x2="123.5" y2="469.8" stroke="#F0B325" stroke-width="1.2"/>
<line x1="121.6" y1="469.5" x2="125.4" y2="469.5" stroke="#F0B325" stroke-width="1.2"/>
<rect x="116.5" y="401.5" width="14" height="30" fill="#FFC000" stroke="#EAAB00" stroke-width="1"/>
<line x1="116.5" y1="418.5" x2="130.5" y2="418.5" stroke="#E2A200" stroke-width="1"/>
<path d="M119.0,411.6 L128.2,420.8 M119.0,420.8 L128.2,411.6" stroke="#E2A200" stroke-width="1.15" fill="none"/>
<circle cx="123.6" cy="315.0" r="2.75" fill="#FFC000" stroke="#E8AE00" stroke-width="0.7"/>
<circle cx="123.6" cy="322.3" r="2.75" fill="#FFC000" stroke="#E8AE00" stroke-width="0.7"/>
<circle cx="123.6" cy="327.8" r="2.75" fill="#FFC000" stroke="#E8AE00" stroke-width="0.7"/>
<circle cx="123.6" cy="333.3" r="2.75" fill="#FFC000" stroke="#E8AE00" stroke-width="0.7"/>
<circle cx="123.6" cy="338.5" r="2.75" fill="#FFC000" stroke="#E8AE00" stroke-width="0.7"/>
<circle cx="123.6" cy="343.7" r="2.75" fill="#FFC000" stroke="#E8AE00" stroke-width="0.7"/>
<circle cx="123.6" cy="349.1" r="2.75" fill="#FFC000" stroke="#E8AE00" stroke-width="0.7"/>
<circle cx="123.6" cy="354.6" r="2.75" fill="#FFC000" stroke="#E8AE00" stroke-width="0.7"/>
<line x1="137.5" y1="405" x2="137.5" y2="354.6" stroke="#3597D2" stroke-width="1.2"/>
<line x1="137.5" y1="439" x2="137.5" y2="489.5" stroke="#3597D2" stroke-width="1.2"/>
<line x1="135.6" y1="489.5" x2="139.4" y2="489.5" stroke="#3597D2" stroke-width="1.2"/>
<rect x="131.5" y="405.5" width="12" height="33" fill="#189CDC" stroke="#1882C0" stroke-width="1"/>
<line x1="131.5" y1="422.5" x2="143.5" y2="422.5" stroke="#1780BE" stroke-width="1"/>
<path d="M132.5,417.1 L141.7,426.3 M132.5,426.3 L141.7,417.1" stroke="#1780BE" stroke-width="1.15" fill="none"/>
<circle cx="137.1" cy="309.7" r="2.75" fill="#189CDC" stroke="#1C88C4" stroke-width="0.7"/>
<circle cx="137.1" cy="315.8" r="2.75" fill="#189CDC" stroke="#1C88C4" stroke-width="0.7"/>
<circle cx="137.1" cy="321.6" r="2.75" fill="#189CDC" stroke="#1C88C4" stroke-width="0.7"/>
<circle cx="137.1" cy="327.0" r="2.75" fill="#189CDC" stroke="#1C88C4" stroke-width="0.7"/>
<circle cx="137.1" cy="334.7" r="2.75" fill="#189CDC" stroke="#1C88C4" stroke-width="0.7"/>
<circle cx="137.1" cy="339.8" r="2.75" fill="#189CDC" stroke="#1C88C4" stroke-width="0.7"/>
<circle cx="137.1" cy="344.5" r="2.75" fill="#189CDC" stroke="#1C88C4" stroke-width="0.7"/>
<circle cx="137.1" cy="349.7" r="2.75" fill="#189CDC" stroke="#1C88C4" stroke-width="0.7"/>
<circle cx="137.1" cy="354.6" r="2.75" fill="#189CDC" stroke="#1C88C4" stroke-width="0.7"/>
<circle cx="137.1" cy="493.1" r="2.75" fill="#189CDC" stroke="#1C88C4" stroke-width="0.7"/>
<circle cx="137.1" cy="498.5" r="2.75" fill="#189CDC" stroke="#1C88C4" stroke-width="0.7"/>
<rect x="184.3" y="278.3" width="181.2" height="269.99999999999994" fill="none" stroke="#E1E1E1" stroke-width="1.3"/>
<line x1="254.6" y1="295.8" x2="254.6" y2="531.5" stroke="#D9D9D9" stroke-width="1.2"/>
<text x="244.2" y="300.4" class="tk" font-size="13">1.5</text>
<text x="244.2" y="326.6" class="tk" font-size="13">1</text>
<text x="244.2" y="352.8" class="tk" font-size="13">0.5</text>
<text x="244.2" y="379.0" class="tk" font-size="13">0</text>
<text x="244.2" y="405.2" class="tk" font-size="13">-0.5</text>
<text x="244.2" y="431.3" class="tk" font-size="13">-1</text>
<text x="244.2" y="457.5" class="tk" font-size="13">-1.5</text>
<text x="244.2" y="483.7" class="tk" font-size="13">-2</text>
<text x="244.2" y="509.9" class="tk" font-size="13">-2.5</text>
<text x="244.2" y="536.1" class="tk" font-size="13">-3</text>
<line x1="254.6" y1="374.4" x2="350.8" y2="374.4" stroke="#3C3C3C" stroke-width="1.6" stroke-dasharray="4.8 3.3"/>
<text transform="translate(206.9,413.5) rotate(-90)" class="tt" text-anchor="middle">LnRR  GGT</text>
<line x1="284.5" y1="348" x2="284.5" y2="321.4" stroke="#EF8743" stroke-width="1.2"/>
<line x1="284.5" y1="373" x2="284.5" y2="406.4" stroke="#EF8743" stroke-width="1.2"/>
<line x1="282.6" y1="321.5" x2="286.4" y2="321.5" stroke="#EF8743" stroke-width="1.2"/>
<line x1="282.6" y1="406.5" x2="286.4" y2="406.5" stroke="#EF8743" stroke-width="1.2"/>
<rect x="278.5" y="348.5" width="12" height="24" fill="#FA7E27" stroke="#E06C1F" stroke-width="1"/>
<line x1="278.5" y1="362.5" x2="290.5" y2="362.5" stroke="#D96A22" stroke-width="1"/>
<path d="M279.8,356.5 L289.0,365.7 M279.8,365.7 L289.0,356.5" stroke="#D96A22" stroke-width="1.15" fill="none"/>
<circle cx="284.4" cy="411.7" r="2.75" fill="#FA7E27" stroke="#E26E20" stroke-width="0.7"/>
<circle cx="284.4" cy="419.8" r="2.75" fill="#FA7E27" stroke="#E26E20" stroke-width="0.7"/>
<line x1="296.5" y1="350" x2="296.5" y2="308.7" stroke="#9A9A9A" stroke-width="1.2"/>
<line x1="296.5" y1="378" x2="296.5" y2="418.2" stroke="#9A9A9A" stroke-width="1.2"/>
<line x1="294.6" y1="308.5" x2="298.4" y2="308.5" stroke="#9A9A9A" stroke-width="1.2"/>
<line x1="294.6" y1="418.5" x2="298.4" y2="418.5" stroke="#9A9A9A" stroke-width="1.2"/>
<rect x="291.5" y="350.5" width="11" height="27" fill="#A5A5A5" stroke="#8E8E8E" stroke-width="1"/>
<line x1="291.5" y1="364.5" x2="302.5" y2="364.5" stroke="#878787" stroke-width="1"/>
<path d="M292.2,364.6 L301.4,373.8 M292.2,373.8 L301.4,364.6" stroke="#878787" stroke-width="1.15" fill="none"/>
<circle cx="296.8" cy="449.6" r="2.75" fill="#A5A5A5" stroke="#8F8F8F" stroke-width="0.7"/>
<circle cx="296.8" cy="458.7" r="2.75" fill="#A5A5A5" stroke="#8F8F8F" stroke-width="0.7"/>
<circle cx="296.8" cy="463.5" r="2.75" fill="#A5A5A5" stroke="#8F8F8F" stroke-width="0.7"/>
<circle cx="296.8" cy="468.2" r="2.75" fill="#A5A5A5" stroke="#8F8F8F" stroke-width="0.7"/>
<circle cx="296.8" cy="473.3" r="2.75" fill="#A5A5A5" stroke="#8F8F8F" stroke-width="0.7"/>
<circle cx="296.8" cy="478.5" r="2.75" fill="#A5A5A5" stroke="#8F8F8F" stroke-width="0.7"/>
<circle cx="296.8" cy="483.3" r="2.75" fill="#A5A5A5" stroke="#8F8F8F" stroke-width="0.7"/>
<circle cx="296.8" cy="487.9" r="2.75" fill="#A5A5A5" stroke="#8F8F8F" stroke-width="0.7"/>
<circle cx="296.8" cy="493.3" r="2.75" fill="#A5A5A5" stroke="#8F8F8F" stroke-width="0.7"/>
<circle cx="296.8" cy="498.5" r="2.75" fill="#A5A5A5" stroke="#8F8F8F" stroke-width="0.7"/>
<circle cx="296.8" cy="503.8" r="2.75" fill="#A5A5A5" stroke="#8F8F8F" stroke-width="0.7"/>
<circle cx="296.8" cy="512.0" r="2.75" fill="#A5A5A5" stroke="#8F8F8F" stroke-width="0.7"/>
<line x1="309.5" y1="348" x2="309.5" y2="307.8" stroke="#F0B325" stroke-width="1.2"/>
<line x1="309.5" y1="377" x2="309.5" y2="420.8" stroke="#F0B325" stroke-width="1.2"/>
<line x1="307.6" y1="307.5" x2="311.4" y2="307.5" stroke="#F0B325" stroke-width="1.2"/>
<line x1="307.6" y1="420.5" x2="311.4" y2="420.5" stroke="#F0B325" stroke-width="1.2"/>
<rect x="303.5" y="348.5" width="12" height="28" fill="#FFC000" stroke="#EAAB00" stroke-width="1"/>
<line x1="303.5" y1="362.5" x2="315.5" y2="362.5" stroke="#E2A200" stroke-width="1"/>
<path d="M304.7,357.9 L313.9,367.1 M304.7,367.1 L313.9,357.9" stroke="#E2A200" stroke-width="1.15" fill="none"/>
<circle cx="309.3" cy="424.2" r="2.75" fill="#FFC000" stroke="#E8AE00" stroke-width="0.7"/>
<line x1="322.5" y1="360" x2="322.5" y2="327.4" stroke="#3597D2" stroke-width="1.2"/>
<line x1="322.5" y1="383" x2="322.5" y2="417.0" stroke="#3597D2" stroke-width="1.2"/>
<line x1="320.6" y1="327.5" x2="324.4" y2="327.5" stroke="#3597D2" stroke-width="1.2"/>
<line x1="320.6" y1="417.5" x2="324.4" y2="417.5" stroke="#3597D2" stroke-width="1.2"/>
<rect x="316.5" y="360.5" width="12" height="22" fill="#189CDC" stroke="#1882C0" stroke-width="1"/>
<line x1="316.5" y1="371.5" x2="328.5" y2="371.5" stroke="#1780BE" stroke-width="1"/>
<path d="M317.6,367.0 L326.8,376.2 M317.6,376.2 L326.8,367.0" stroke="#1780BE" stroke-width="1.15" fill="none"/>
<circle cx="322.2" cy="323.3" r="2.75" fill="#189CDC" stroke="#1C88C4" stroke-width="0.7"/>
<circle cx="322.2" cy="419.4" r="2.75" fill="#189CDC" stroke="#1C88C4" stroke-width="0.7"/>
<circle cx="322.2" cy="424.9" r="2.75" fill="#189CDC" stroke="#1C88C4" stroke-width="0.7"/>
<circle cx="322.2" cy="433.0" r="2.75" fill="#189CDC" stroke="#1C88C4" stroke-width="0.7"/>
<rect x="365.5" y="278.3" width="181.0" height="269.99999999999994" fill="none" stroke="#E1E1E1" stroke-width="1.3"/>
<line x1="424.4" y1="295.8" x2="424.4" y2="531.5" stroke="#D9D9D9" stroke-width="1.2"/>
<text x="414.0" y="300.4" class="tk" font-size="13">6</text>
<text x="414.0" y="334.1" class="tk" font-size="13">4</text>
<text x="414.0" y="367.7" class="tk" font-size="13">2</text>
<text x="414.0" y="401.4" class="tk" font-size="13">0</text>
<text x="414.0" y="435.1" class="tk" font-size="13">-2</text>
<text x="414.0" y="468.8" class="tk" font-size="13">-4</text>
<text x="414.0" y="502.4" class="tk" font-size="13">-6</text>
<text x="414.0" y="536.1" class="tk" font-size="13">-8</text>
<line x1="424.4" y1="396.8" x2="535.8" y2="396.8" stroke="#3C3C3C" stroke-width="1.6" stroke-dasharray="4.8 3.3"/>
<text transform="translate(387.9,413.5) rotate(-90)" class="tt" text-anchor="middle">LnRR  α-amylase</text>
<line x1="457.5" y1="391" x2="457.5" y2="386.5" stroke="#EF8743" stroke-width="1.2"/>
<line x1="457.5" y1="397" x2="457.5" y2="402.5" stroke="#EF8743" stroke-width="1.2"/>
<line x1="455.6" y1="402.5" x2="459.4" y2="402.5" stroke="#EF8743" stroke-width="1.2"/>
<rect x="451.5" y="391.5" width="13" height="5" fill="#FA7E27" stroke="#E06C1F" stroke-width="1"/>
<line x1="451.5" y1="393.5" x2="464.5" y2="393.5" stroke="#D96A22" stroke-width="1"/>
<path d="M453.0,387.5 L462.2,396.7 M453.0,396.7 L462.2,387.5" stroke="#D96A22" stroke-width="1.15" fill="none"/>
<circle cx="457.6" cy="326.7" r="2.75" fill="#FA7E27" stroke="#E26E20" stroke-width="0.7"/>
<circle cx="457.6" cy="334.3" r="2.75" fill="#FA7E27" stroke="#E26E20" stroke-width="0.7"/>
<circle cx="457.6" cy="339.4" r="2.75" fill="#FA7E27" stroke="#E26E20" stroke-width="0.7"/>
<circle cx="457.6" cy="344.6" r="2.75" fill="#FA7E27" stroke="#E26E20" stroke-width="0.7"/>
<circle cx="457.6" cy="350.1" r="2.75" fill="#FA7E27" stroke="#E26E20" stroke-width="0.7"/>
<circle cx="457.6" cy="355.3" r="2.75" fill="#FA7E27" stroke="#E26E20" stroke-width="0.7"/>
<circle cx="457.6" cy="360.5" r="2.75" fill="#FA7E27" stroke="#E26E20" stroke-width="0.7"/>
<circle cx="457.6" cy="365.3" r="2.75" fill="#FA7E27" stroke="#E26E20" stroke-width="0.7"/>
<circle cx="457.6" cy="370.1" r="2.75" fill="#FA7E27" stroke="#E26E20" stroke-width="0.7"/>
<circle cx="457.6" cy="375.1" r="2.75" fill="#FA7E27" stroke="#E26E20" stroke-width="0.7"/>
<circle cx="457.6" cy="380.2" r="2.75" fill="#FA7E27" stroke="#E26E20" stroke-width="0.7"/>
<circle cx="457.6" cy="385.4" r="2.75" fill="#FA7E27" stroke="#E26E20" stroke-width="0.7"/>
<circle cx="457.6" cy="406.5" r="2.75" fill="#FA7E27" stroke="#E26E20" stroke-width="0.7"/>
<circle cx="457.6" cy="411.4" r="2.75" fill="#FA7E27" stroke="#E26E20" stroke-width="0.7"/>
<circle cx="457.6" cy="416.2" r="2.75" fill="#FA7E27" stroke="#E26E20" stroke-width="0.7"/>
<circle cx="457.6" cy="421.0" r="2.75" fill="#FA7E27" stroke="#E26E20" stroke-width="0.7"/>
<circle cx="457.6" cy="425.8" r="2.75" fill="#FA7E27" stroke="#E26E20" stroke-width="0.7"/>
<circle cx="457.6" cy="430.6" r="2.75" fill="#FA7E27" stroke="#E26E20" stroke-width="0.7"/>
<circle cx="457.6" cy="437.3" r="2.75" fill="#FA7E27" stroke="#E26E20" stroke-width="0.7"/>
<circle cx="457.6" cy="444.5" r="2.75" fill="#FA7E27" stroke="#E26E20" stroke-width="0.7"/>
<line x1="472.5" y1="384" x2="472.5" y2="365.3" stroke="#9A9A9A" stroke-width="1.2"/>
<line x1="472.5" y1="397" x2="472.5" y2="410.0" stroke="#9A9A9A" stroke-width="1.2"/>
<rect x="465.5" y="384.5" width="13" height="12" fill="#A5A5A5" stroke="#8E8E8E" stroke-width="1"/>
<line x1="465.5" y1="390.5" x2="478.5" y2="390.5" stroke="#878787" stroke-width="1"/>
<path d="M467.5,385.4 L476.7,394.6 M467.5,394.6 L476.7,385.4" stroke="#878787" stroke-width="1.15" fill="none"/>
<circle cx="472.1" cy="318.5" r="2.75" fill="#A5A5A5" stroke="#8F8F8F" stroke-width="0.7"/>
<circle cx="472.1" cy="327.6" r="2.75" fill="#A5A5A5" stroke="#8F8F8F" stroke-width="0.7"/>
<circle cx="472.1" cy="334.6" r="2.75" fill="#A5A5A5" stroke="#8F8F8F" stroke-width="0.7"/>
<circle cx="472.1" cy="340.3" r="2.75" fill="#A5A5A5" stroke="#8F8F8F" stroke-width="0.7"/>
<circle cx="472.1" cy="345.3" r="2.75" fill="#A5A5A5" stroke="#8F8F8F" stroke-width="0.7"/>
<circle cx="472.1" cy="350.6" r="2.75" fill="#A5A5A5" stroke="#8F8F8F" stroke-width="0.7"/>
<circle cx="472.1" cy="355.7" r="2.75" fill="#A5A5A5" stroke="#8F8F8F" stroke-width="0.7"/>
<circle cx="472.1" cy="360.5" r="2.75" fill="#A5A5A5" stroke="#8F8F8F" stroke-width="0.7"/>
<circle cx="472.1" cy="365.3" r="2.75" fill="#A5A5A5" stroke="#8F8F8F" stroke-width="0.7"/>
<circle cx="472.1" cy="414.8" r="2.75" fill="#A5A5A5" stroke="#8F8F8F" stroke-width="0.7"/>
<circle cx="472.1" cy="419.9" r="2.75" fill="#A5A5A5" stroke="#8F8F8F" stroke-width="0.7"/>
<circle cx="472.1" cy="425.3" r="2.75" fill="#A5A5A5" stroke="#8F8F8F" stroke-width="0.7"/>
<circle cx="472.1" cy="431.5" r="2.75" fill="#A5A5A5" stroke="#8F8F8F" stroke-width="0.7"/>
<circle cx="472.1" cy="438.2" r="2.75" fill="#A5A5A5" stroke="#8F8F8F" stroke-width="0.7"/>
<line x1="486.5" y1="384" x2="486.5" y2="366.3" stroke="#F0B325" stroke-width="1.2"/>
<line x1="486.5" y1="397" x2="486.5" y2="414.0" stroke="#F0B325" stroke-width="1.2"/>
<rect x="479.5" y="384.5" width="13" height="12" fill="#FFC000" stroke="#EAAB00" stroke-width="1"/>
<line x1="479.5" y1="390.5" x2="492.5" y2="390.5" stroke="#E2A200" stroke-width="1"/>
<path d="M481.6,385.9 L490.8,395.1 M481.6,395.1 L490.8,385.9" stroke="#E2A200" stroke-width="1.15" fill="none"/>
<circle cx="486.2" cy="320.9" r="2.75" fill="#FFC000" stroke="#E8AE00" stroke-width="0.7"/>
<circle cx="486.2" cy="326.4" r="2.75" fill="#FFC000" stroke="#E8AE00" stroke-width="0.7"/>
<circle cx="486.2" cy="331.6" r="2.75" fill="#FFC000" stroke="#E8AE00" stroke-width="0.7"/>
<circle cx="486.2" cy="336.7" r="2.75" fill="#FFC000" stroke="#E8AE00" stroke-width="0.7"/>
<circle cx="486.2" cy="341.7" r="2.75" fill="#FFC000" stroke="#E8AE00" stroke-width="0.7"/>
<circle cx="486.2" cy="346.8" r="2.75" fill="#FFC000" stroke="#E8AE00" stroke-width="0.7"/>
<circle cx="486.2" cy="351.6" r="2.75" fill="#FFC000" stroke="#E8AE00" stroke-width="0.7"/>
<circle cx="486.2" cy="356.7" r="2.75" fill="#FFC000" stroke="#E8AE00" stroke-width="0.7"/>
<circle cx="486.2" cy="361.5" r="2.75" fill="#FFC000" stroke="#E8AE00" stroke-width="0.7"/>
<circle cx="486.2" cy="366.3" r="2.75" fill="#FFC000" stroke="#E8AE00" stroke-width="0.7"/>
<circle cx="486.2" cy="417.7" r="2.75" fill="#FFC000" stroke="#E8AE00" stroke-width="0.7"/>
<circle cx="486.2" cy="422.6" r="2.75" fill="#FFC000" stroke="#E8AE00" stroke-width="0.7"/>
<circle cx="486.2" cy="427.7" r="2.75" fill="#FFC000" stroke="#E8AE00" stroke-width="0.7"/>
<circle cx="486.2" cy="433.3" r="2.75" fill="#FFC000" stroke="#E8AE00" stroke-width="0.7"/>
<circle cx="486.2" cy="438.2" r="2.75" fill="#FFC000" stroke="#E8AE00" stroke-width="0.7"/>
<circle cx="486.2" cy="443.5" r="2.75" fill="#FFC000" stroke="#E8AE00" stroke-width="0.7"/>
<circle cx="486.2" cy="448.3" r="2.75" fill="#FFC000" stroke="#E8AE00" stroke-width="0.7"/>
<circle cx="486.2" cy="454.5" r="2.75" fill="#FFC000" stroke="#E8AE00" stroke-width="0.7"/>
<circle cx="486.2" cy="461.0" r="2.75" fill="#FFC000" stroke="#E8AE00" stroke-width="0.7"/>
<circle cx="486.2" cy="470.8" r="2.75" fill="#FFC000" stroke="#E8AE00" stroke-width="0.7"/>
<line x1="500.5" y1="390" x2="500.5" y2="383.0" stroke="#3597D2" stroke-width="1.2"/>
<line x1="500.5" y1="397" x2="500.5" y2="408.2" stroke="#3597D2" stroke-width="1.2"/>
<line x1="498.6" y1="408.5" x2="502.4" y2="408.5" stroke="#3597D2" stroke-width="1.2"/>
<rect x="494.5" y="390.5" width="11" height="6" fill="#189CDC" stroke="#1882C0" stroke-width="1"/>
<line x1="494.5" y1="394.5" x2="505.5" y2="394.5" stroke="#1780BE" stroke-width="1"/>
<path d="M495.5,392.3 L504.7,401.5 M495.5,401.5 L504.7,392.3" stroke="#1780BE" stroke-width="1.15" fill="none"/>
<circle cx="500.1" cy="327.9" r="2.75" fill="#189CDC" stroke="#1C88C4" stroke-width="0.7"/>
<circle cx="500.1" cy="335.0" r="2.75" fill="#189CDC" stroke="#1C88C4" stroke-width="0.7"/>
<circle cx="500.1" cy="340.3" r="2.75" fill="#189CDC" stroke="#1C88C4" stroke-width="0.7"/>
<circle cx="500.1" cy="345.5" r="2.75" fill="#189CDC" stroke="#1C88C4" stroke-width="0.7"/>
<circle cx="500.1" cy="350.6" r="2.75" fill="#189CDC" stroke="#1C88C4" stroke-width="0.7"/>
<circle cx="500.1" cy="355.3" r="2.75" fill="#189CDC" stroke="#1C88C4" stroke-width="0.7"/>
<circle cx="500.1" cy="360.1" r="2.75" fill="#189CDC" stroke="#1C88C4" stroke-width="0.7"/>
<circle cx="500.1" cy="364.8" r="2.75" fill="#189CDC" stroke="#1C88C4" stroke-width="0.7"/>
<circle cx="500.1" cy="369.6" r="2.75" fill="#189CDC" stroke="#1C88C4" stroke-width="0.7"/>
<circle cx="500.1" cy="374.4" r="2.75" fill="#189CDC" stroke="#1C88C4" stroke-width="0.7"/>
<circle cx="500.1" cy="379.2" r="2.75" fill="#189CDC" stroke="#1C88C4" stroke-width="0.7"/>
<circle cx="500.1" cy="412.2" r="2.75" fill="#189CDC" stroke="#1C88C4" stroke-width="0.7"/>
<circle cx="500.1" cy="417.0" r="2.75" fill="#189CDC" stroke="#1C88C4" stroke-width="0.7"/>
<circle cx="500.1" cy="422.0" r="2.75" fill="#189CDC" stroke="#1C88C4" stroke-width="0.7"/>
<circle cx="500.1" cy="427.0" r="2.75" fill="#189CDC" stroke="#1C88C4" stroke-width="0.7"/>
<circle cx="500.1" cy="432.4" r="2.75" fill="#189CDC" stroke="#1C88C4" stroke-width="0.7"/>
<circle cx="500.1" cy="437.8" r="2.75" fill="#189CDC" stroke="#1C88C4" stroke-width="0.7"/>
<circle cx="500.1" cy="442.8" r="2.75" fill="#189CDC" stroke="#1C88C4" stroke-width="0.7"/>
<circle cx="500.1" cy="447.8" r="2.75" fill="#189CDC" stroke="#1C88C4" stroke-width="0.7"/>
<circle cx="500.1" cy="453.6" r="2.75" fill="#189CDC" stroke="#1C88C4" stroke-width="0.7"/>
<circle cx="500.1" cy="458.4" r="2.75" fill="#189CDC" stroke="#1C88C4" stroke-width="0.7"/>
<circle cx="500.1" cy="463.1" r="2.75" fill="#189CDC" stroke="#1C88C4" stroke-width="0.7"/>
<circle cx="500.1" cy="467.9" r="2.75" fill="#189CDC" stroke="#1C88C4" stroke-width="0.7"/>
<circle cx="500.1" cy="474.4" r="2.75" fill="#189CDC" stroke="#1C88C4" stroke-width="0.7"/>
<circle cx="500.1" cy="480.9" r="2.75" fill="#189CDC" stroke="#1C88C4" stroke-width="0.7"/>
<circle cx="500.1" cy="490.4" r="2.75" fill="#189CDC" stroke="#1C88C4" stroke-width="0.7"/>
<rect x="546.5" y="278.3" width="180.70000000000005" height="269.99999999999994" fill="none" stroke="#E1E1E1" stroke-width="1.3"/>
<line x1="605.4" y1="295.8" x2="605.4" y2="531.5" stroke="#D9D9D9" stroke-width="1.2"/>
<text x="595.0" y="300.4" class="tk" font-size="13">4</text>
<text x="595.0" y="329.9" class="tk" font-size="13">3</text>
<text x="595.0" y="359.3" class="tk" font-size="13">2</text>
<text x="595.0" y="388.8" class="tk" font-size="13">1</text>
<text x="595.0" y="418.3" class="tk" font-size="13">0</text>
<text x="595.0" y="447.7" class="tk" font-size="13">-1</text>
<text x="595.0" y="477.2" class="tk" font-size="13">-2</text>
<text x="595.0" y="506.6" class="tk" font-size="13">-3</text>
<text x="595.0" y="536.1" class="tk" font-size="13">-4</text>
<line x1="605.4" y1="413.6" x2="717.3" y2="413.6" stroke="#3C3C3C" stroke-width="1.6" stroke-dasharray="4.8 3.3"/>
<text transform="translate(569.1,413.5) rotate(-90)" class="tt" text-anchor="middle">LnRR  CAT</text>
<line x1="639.5" y1="424" x2="639.5" y2="395.5" stroke="#EF8743" stroke-width="1.2"/>
<line x1="639.5" y1="449" x2="639.5" y2="479.4" stroke="#EF8743" stroke-width="1.2"/>
<line x1="637.6" y1="395.5" x2="641.4" y2="395.5" stroke="#EF8743" stroke-width="1.2"/>
<line x1="637.6" y1="479.5" x2="641.4" y2="479.5" stroke="#EF8743" stroke-width="1.2"/>
<rect x="632.5" y="424.5" width="13" height="24" fill="#FA7E27" stroke="#E06C1F" stroke-width="1"/>
<line x1="632.5" y1="435.5" x2="645.5" y2="435.5" stroke="#D96A22" stroke-width="1"/>
<path d="M634.5,430.9 L643.7,440.1 M634.5,440.1 L643.7,430.9" stroke="#D96A22" stroke-width="1.15" fill="none"/>
<circle cx="639.1" cy="329.2" r="2.75" fill="#FA7E27" stroke="#E26E20" stroke-width="0.7"/>
<circle cx="639.1" cy="343.9" r="2.75" fill="#FA7E27" stroke="#E26E20" stroke-width="0.7"/>
<circle cx="639.1" cy="350.6" r="2.75" fill="#FA7E27" stroke="#E26E20" stroke-width="0.7"/>
<circle cx="639.1" cy="364.2" r="2.75" fill="#FA7E27" stroke="#E26E20" stroke-width="0.7"/>
<circle cx="639.1" cy="373.2" r="2.75" fill="#FA7E27" stroke="#E26E20" stroke-width="0.7"/>
<circle cx="639.1" cy="378.5" r="2.75" fill="#FA7E27" stroke="#E26E20" stroke-width="0.7"/>
<circle cx="639.1" cy="385.2" r="2.75" fill="#FA7E27" stroke="#E26E20" stroke-width="0.7"/>
<line x1="653.5" y1="411" x2="653.5" y2="376.3" stroke="#9A9A9A" stroke-width="1.2"/>
<line x1="653.5" y1="435" x2="653.5" y2="469.8" stroke="#9A9A9A" stroke-width="1.2"/>
<line x1="651.6" y1="469.5" x2="655.4" y2="469.5" stroke="#9A9A9A" stroke-width="1.2"/>
<rect x="646.5" y="411.5" width="13" height="23" fill="#A5A5A5" stroke="#8E8E8E" stroke-width="1"/>
<line x1="646.5" y1="423.5" x2="659.5" y2="423.5" stroke="#878787" stroke-width="1"/>
<path d="M648.6,418.6 L657.8,427.8 M648.6,427.8 L657.8,418.6" stroke="#878787" stroke-width="1.15" fill="none"/>
<circle cx="653.2" cy="315.2" r="2.75" fill="#A5A5A5" stroke="#8F8F8F" stroke-width="0.7"/>
<circle cx="653.2" cy="322.5" r="2.75" fill="#A5A5A5" stroke="#8F8F8F" stroke-width="0.7"/>
<circle cx="653.2" cy="329.7" r="2.75" fill="#A5A5A5" stroke="#8F8F8F" stroke-width="0.7"/>
<circle cx="653.2" cy="337.0" r="2.75" fill="#A5A5A5" stroke="#8F8F8F" stroke-width="0.7"/>
<circle cx="653.2" cy="343.2" r="2.75" fill="#A5A5A5" stroke="#8F8F8F" stroke-width="0.7"/>
<circle cx="653.2" cy="350.8" r="2.75" fill="#A5A5A5" stroke="#8F8F8F" stroke-width="0.7"/>
<circle cx="653.2" cy="357.5" r="2.75" fill="#A5A5A5" stroke="#8F8F8F" stroke-width="0.7"/>
<circle cx="653.2" cy="364.6" r="2.75" fill="#A5A5A5" stroke="#8F8F8F" stroke-width="0.7"/>
<circle cx="653.2" cy="369.6" r="2.75" fill="#A5A5A5" stroke="#8F8F8F" stroke-width="0.7"/>
<circle cx="653.2" cy="376.3" r="2.75" fill="#A5A5A5" stroke="#8F8F8F" stroke-width="0.7"/>
<circle cx="653.2" cy="474.6" r="2.75" fill="#A5A5A5" stroke="#8F8F8F" stroke-width="0.7"/>
<circle cx="653.2" cy="479.8" r="2.75" fill="#A5A5A5" stroke="#8F8F8F" stroke-width="0.7"/>
<line x1="667.5" y1="410" x2="667.5" y2="366.3" stroke="#F0B325" stroke-width="1.2"/>
<line x1="667.5" y1="440" x2="667.5" y2="483.2" stroke="#F0B325" stroke-width="1.2"/>
<rect x="660.5" y="410.5" width="14" height="29" fill="#FFC000" stroke="#EAAB00" stroke-width="1"/>
<line x1="660.5" y1="423.5" x2="674.5" y2="423.5" stroke="#E2A200" stroke-width="1"/>
<path d="M663.0,420.0 L672.2,429.2 M663.0,429.2 L672.2,420.0" stroke="#E2A200" stroke-width="1.15" fill="none"/>
<circle cx="667.6" cy="316.4" r="2.75" fill="#FFC000" stroke="#E8AE00" stroke-width="0.7"/>
<circle cx="667.6" cy="322.1" r="2.75" fill="#FFC000" stroke="#E8AE00" stroke-width="0.7"/>
<circle cx="667.6" cy="327.1" r="2.75" fill="#FFC000" stroke="#E8AE00" stroke-width="0.7"/>
<circle cx="667.6" cy="334.5" r="2.75" fill="#FFC000" stroke="#E8AE00" stroke-width="0.7"/>
<circle cx="667.6" cy="346.1" r="2.75" fill="#FFC000" stroke="#E8AE00" stroke-width="0.7"/>
<circle cx="667.6" cy="351.8" r="2.75" fill="#FFC000" stroke="#E8AE00" stroke-width="0.7"/>
<circle cx="667.6" cy="359.6" r="2.75" fill="#FFC000" stroke="#E8AE00" stroke-width="0.7"/>
<circle cx="667.6" cy="366.3" r="2.75" fill="#FFC000" stroke="#E8AE00" stroke-width="0.7"/>
<circle cx="667.6" cy="483.2" r="2.75" fill="#FFC000" stroke="#E8AE00" stroke-width="0.7"/>
<circle cx="667.6" cy="488.3" r="2.75" fill="#FFC000" stroke="#E8AE00" stroke-width="0.7"/>
<line x1="681.5" y1="405" x2="681.5" y2="352.9" stroke="#3597D2" stroke-width="1.2"/>
<line x1="681.5" y1="440" x2="681.5" y2="491.3" stroke="#3597D2" stroke-width="1.2"/>
<line x1="679.6" y1="491.5" x2="683.4" y2="491.5" stroke="#3597D2" stroke-width="1.2"/>
<rect x="675.5" y="405.5" width="12" height="34" fill="#189CDC" stroke="#1882C0" stroke-width="1"/>
<line x1="675.5" y1="423.5" x2="687.5" y2="423.5" stroke="#1780BE" stroke-width="1"/>
<path d="M676.9,418.6 L686.1,427.8 M676.9,427.8 L686.1,418.6" stroke="#1780BE" stroke-width="1.15" fill="none"/>
<circle cx="681.5" cy="306.1" r="2.75" fill="#189CDC" stroke="#1C88C4" stroke-width="0.7"/>
<circle cx="681.5" cy="311.3" r="2.75" fill="#189CDC" stroke="#1C88C4" stroke-width="0.7"/>
<circle cx="681.5" cy="316.4" r="2.75" fill="#189CDC" stroke="#1C88C4" stroke-width="0.7"/>
<circle cx="681.5" cy="322.8" r="2.75" fill="#189CDC" stroke="#1C88C4" stroke-width="0.7"/>
<circle cx="681.5" cy="336.2" r="2.75" fill="#189CDC" stroke="#1C88C4" stroke-width="0.7"/>
<circle cx="681.5" cy="342.0" r="2.75" fill="#189CDC" stroke="#1C88C4" stroke-width="0.7"/>
<circle cx="681.5" cy="346.8" r="2.75" fill="#189CDC" stroke="#1C88C4" stroke-width="0.7"/>
<circle cx="681.5" cy="352.9" r="2.75" fill="#189CDC" stroke="#1C88C4" stroke-width="0.7"/>
<circle cx="681.5" cy="496.1" r="2.75" fill="#189CDC" stroke="#1C88C4" stroke-width="0.7"/>
<circle cx="681.5" cy="501.2" r="2.75" fill="#189CDC" stroke="#1C88C4" stroke-width="0.7"/>
<rect x="3.8" y="552.2" width="180.5" height="270.0999999999999" fill="none" stroke="#E1E1E1" stroke-width="1.3"/>
<line x1="72.4" y1="569.7" x2="72.4" y2="805.4000000000001" stroke="#D9D9D9" stroke-width="1.2"/>
<text x="62.0" y="574.3" class="tk" font-size="13">1.5</text>
<text x="62.0" y="613.6" class="tk" font-size="13">1</text>
<text x="62.0" y="652.9" class="tk" font-size="13">0.5</text>
<text x="62.0" y="692.2" class="tk" font-size="13">0</text>
<text x="62.0" y="731.4" class="tk" font-size="13">-0.5</text>
<text x="62.0" y="770.7" class="tk" font-size="13">-1</text>
<text x="62.0" y="810.0" class="tk" font-size="13">-1.5</text>
<line x1="72.4" y1="687.6" x2="170.5" y2="687.6" stroke="#3C3C3C" stroke-width="1.6" stroke-dasharray="4.8 3.3"/>
<text transform="translate(25.2,687.3) rotate(-90)" class="tt" text-anchor="middle">LnRR  SB</text>
<line x1="102.5" y1="671" x2="102.5" y2="638.9" stroke="#EF8743" stroke-width="1.2"/>
<line x1="102.5" y1="692" x2="102.5" y2="720.6" stroke="#EF8743" stroke-width="1.2"/>
<line x1="100.6" y1="720.5" x2="104.4" y2="720.5" stroke="#EF8743" stroke-width="1.2"/>
<rect x="96.5" y="671.5" width="13" height="20" fill="#FA7E27" stroke="#E06C1F" stroke-width="1"/>
<line x1="96.5" y1="683.5" x2="109.5" y2="683.5" stroke="#D96A22" stroke-width="1"/>
<path d="M98.3,675.6 L107.5,684.8 M98.3,684.8 L107.5,675.6" stroke="#D96A22" stroke-width="1.15" fill="none"/>
<circle cx="102.9" cy="614.0" r="2.75" fill="#FA7E27" stroke="#E26E20" stroke-width="0.7"/>
<circle cx="102.9" cy="619.1" r="2.75" fill="#FA7E27" stroke="#E26E20" stroke-width="0.7"/>
<circle cx="102.9" cy="624.2" r="2.75" fill="#FA7E27" stroke="#E26E20" stroke-width="0.7"/>
<circle cx="102.9" cy="629.3" r="2.75" fill="#FA7E27" stroke="#E26E20" stroke-width="0.7"/>
<circle cx="102.9" cy="634.4" r="2.75" fill="#FA7E27" stroke="#E26E20" stroke-width="0.7"/>
<circle cx="102.9" cy="638.9" r="2.75" fill="#FA7E27" stroke="#E26E20" stroke-width="0.7"/>
<circle cx="102.9" cy="725.7" r="2.75" fill="#FA7E27" stroke="#E26E20" stroke-width="0.7"/>
<circle cx="102.9" cy="741.7" r="2.75" fill="#FA7E27" stroke="#E26E20" stroke-width="0.7"/>
<circle cx="102.9" cy="752.5" r="2.75" fill="#FA7E27" stroke="#E26E20" stroke-width="0.7"/>
<circle cx="102.9" cy="761.1" r="2.75" fill="#FA7E27" stroke="#E26E20" stroke-width="0.7"/>
<line x1="115.5" y1="667" x2="115.5" y2="627.9" stroke="#9A9A9A" stroke-width="1.2"/>
<line x1="115.5" y1="692" x2="115.5" y2="729.9" stroke="#9A9A9A" stroke-width="1.2"/>
<line x1="113.6" y1="729.5" x2="117.4" y2="729.5" stroke="#9A9A9A" stroke-width="1.2"/>
<rect x="110.5" y="667.5" width="10" height="24" fill="#A5A5A5" stroke="#8E8E8E" stroke-width="1"/>
<line x1="110.5" y1="681.5" x2="120.5" y2="681.5" stroke="#878787" stroke-width="1"/>
<path d="M111.1,675.1 L120.3,684.3 M111.1,684.3 L120.3,675.1" stroke="#878787" stroke-width="1.15" fill="none"/>
<circle cx="115.7" cy="617.8" r="2.75" fill="#A5A5A5" stroke="#8F8F8F" stroke-width="0.7"/>
<circle cx="115.7" cy="623.1" r="2.75" fill="#A5A5A5" stroke="#8F8F8F" stroke-width="0.7"/>
<circle cx="115.7" cy="627.9" r="2.75" fill="#A5A5A5" stroke="#8F8F8F" stroke-width="0.7"/>
<circle cx="115.7" cy="741.7" r="2.75" fill="#A5A5A5" stroke="#8F8F8F" stroke-width="0.7"/>
<circle cx="115.7" cy="746.9" r="2.75" fill="#A5A5A5" stroke="#8F8F8F" stroke-width="0.7"/>
<circle cx="115.7" cy="754.1" r="2.75" fill="#A5A5A5" stroke="#8F8F8F" stroke-width="0.7"/>
<circle cx="115.7" cy="764.6" r="2.75" fill="#A5A5A5" stroke="#8F8F8F" stroke-width="0.7"/>
<line x1="128.5" y1="664" x2="128.5" y2="623.9" stroke="#F0B325" stroke-width="1.2"/>
<line x1="128.5" y1="692" x2="128.5" y2="723.7" stroke="#F0B325" stroke-width="1.2"/>
<line x1="126.6" y1="723.5" x2="130.4" y2="723.5" stroke="#F0B325" stroke-width="1.2"/>
<rect x="121.5" y="664.5" width="12" height="27" fill="#FFC000" stroke="#EAAB00" stroke-width="1"/>
<line x1="121.5" y1="682.5" x2="133.5" y2="682.5" stroke="#E2A200" stroke-width="1"/>
<path d="M123.4,674.2 L132.6,683.4 M123.4,683.4 L132.6,674.2" stroke="#E2A200" stroke-width="1.15" fill="none"/>
<circle cx="128.0" cy="623.9" r="2.75" fill="#FFC000" stroke="#E8AE00" stroke-width="0.7"/>
<circle cx="128.0" cy="733.0" r="2.75" fill="#FFC000" stroke="#E8AE00" stroke-width="0.7"/>
<circle cx="128.0" cy="738.8" r="2.75" fill="#FFC000" stroke="#E8AE00" stroke-width="0.7"/>
<circle cx="128.0" cy="744.8" r="2.75" fill="#FFC000" stroke="#E8AE00" stroke-width="0.7"/>
<circle cx="128.0" cy="750.3" r="2.75" fill="#FFC000" stroke="#E8AE00" stroke-width="0.7"/>
<circle cx="128.0" cy="757.9" r="2.75" fill="#FFC000" stroke="#E8AE00" stroke-width="0.7"/>
<line x1="141.5" y1="647" x2="141.5" y2="610.2" stroke="#3597D2" stroke-width="1.2"/>
<line x1="141.5" y1="684" x2="141.5" y2="739.5" stroke="#3597D2" stroke-width="1.2"/>
<line x1="139.6" y1="610.5" x2="143.4" y2="610.5" stroke="#3597D2" stroke-width="1.2"/>
<line x1="139.6" y1="739.5" x2="143.4" y2="739.5" stroke="#3597D2" stroke-width="1.2"/>
<rect x="135.5" y="647.5" width="12" height="36" fill="#189CDC" stroke="#1882C0" stroke-width="1"/>
<line x1="135.5" y1="665.5" x2="147.5" y2="665.5" stroke="#1780BE" stroke-width="1"/>
<path d="M136.6,660.4 L145.8,669.6 M136.6,669.6 L145.8,660.4" stroke="#1780BE" stroke-width="1.15" fill="none"/>
<circle cx="141.2" cy="743.6" r="2.75" fill="#189CDC" stroke="#1C88C4" stroke-width="0.7"/>
<circle cx="141.2" cy="748.5" r="2.75" fill="#189CDC" stroke="#1C88C4" stroke-width="0.7"/>
<circle cx="141.2" cy="759.8" r="2.75" fill="#189CDC" stroke="#1C88C4" stroke-width="0.7"/>
<rect x="184.3" y="552.2" width="181.2" height="270.0999999999999" fill="none" stroke="#E1E1E1" stroke-width="1.3"/>
<line x1="254.6" y1="569.7" x2="254.6" y2="805.4000000000001" stroke="#D9D9D9" stroke-width="1.2"/>
<text x="244.2" y="574.3" class="tk" font-size="13">2</text>
<text x="244.2" y="608.0" class="tk" font-size="13">1.5</text>
<text x="244.2" y="641.6" class="tk" font-size="13">1</text>
<text x="244.2" y="675.3" class="tk" font-size="13">0.5</text>
<text x="244.2" y="709.0" class="tk" font-size="13">0</text>
<text x="244.2" y="742.7" class="tk" font-size="13">-0.5</text>
<text x="244.2" y="776.3" class="tk" font-size="13">-1</text>
<text x="244.2" y="810.0" class="tk" font-size="13">-1.5</text>
<line x1="254.6" y1="704.4" x2="350.8" y2="704.4" stroke="#3C3C3C" stroke-width="1.6" stroke-dasharray="4.8 3.3"/>
<text transform="translate(206.9,687.3) rotate(-90)" class="tt" text-anchor="middle">LnRR  MDA</text>
<line x1="284.5" y1="704" x2="284.5" y2="674.0" stroke="#EF8743" stroke-width="1.2"/>
<line x1="284.5" y1="728" x2="284.5" y2="767.1" stroke="#EF8743" stroke-width="1.2"/>
<line x1="282.6" y1="674.5" x2="286.4" y2="674.5" stroke="#EF8743" stroke-width="1.2"/>
<rect x="278.5" y="704.5" width="12" height="23" fill="#FA7E27" stroke="#E06C1F" stroke-width="1"/>
<line x1="278.5" y1="711.5" x2="290.5" y2="711.5" stroke="#D96A22" stroke-width="1"/>
<path d="M279.6,712.3 L288.8,721.5 M279.6,721.5 L288.8,712.3" stroke="#D96A22" stroke-width="1.15" fill="none"/>
<circle cx="284.2" cy="767.1" r="2.75" fill="#FA7E27" stroke="#E26E20" stroke-width="0.7"/>
<circle cx="284.2" cy="773.5" r="2.75" fill="#FA7E27" stroke="#E26E20" stroke-width="0.7"/>
<line x1="297.5" y1="704" x2="297.5" y2="673.1" stroke="#9A9A9A" stroke-width="1.2"/>
<line x1="297.5" y1="724" x2="297.5" y2="755.3" stroke="#9A9A9A" stroke-width="1.2"/>
<line x1="295.6" y1="755.5" x2="299.4" y2="755.5" stroke="#9A9A9A" stroke-width="1.2"/>
<rect x="291.5" y="704.5" width="11" height="19" fill="#A5A5A5" stroke="#8E8E8E" stroke-width="1"/>
<line x1="291.5" y1="707.5" x2="302.5" y2="707.5" stroke="#878787" stroke-width="1"/>
<path d="M292.4,703.2 L301.6,712.4 M292.4,712.4 L301.6,703.2" stroke="#878787" stroke-width="1.15" fill="none"/>
<circle cx="297.0" cy="609.5" r="2.75" fill="#A5A5A5" stroke="#8F8F8F" stroke-width="0.7"/>
<circle cx="297.0" cy="614.8" r="2.75" fill="#A5A5A5" stroke="#8F8F8F" stroke-width="0.7"/>
<circle cx="297.0" cy="619.8" r="2.75" fill="#A5A5A5" stroke="#8F8F8F" stroke-width="0.7"/>
<circle cx="297.0" cy="626.5" r="2.75" fill="#A5A5A5" stroke="#8F8F8F" stroke-width="0.7"/>
<circle cx="297.0" cy="631.6" r="2.75" fill="#A5A5A5" stroke="#8F8F8F" stroke-width="0.7"/>
<circle cx="297.0" cy="636.7" r="2.75" fill="#A5A5A5" stroke="#8F8F8F" stroke-width="0.7"/>
<circle cx="297.0" cy="642.0" r="2.75" fill="#A5A5A5" stroke="#8F8F8F" stroke-width="0.7"/>
<circle cx="297.0" cy="647.2" r="2.75" fill="#A5A5A5" stroke="#8F8F8F" stroke-width="0.7"/>
<circle cx="297.0" cy="652.5" r="2.75" fill="#A5A5A5" stroke="#8F8F8F" stroke-width="0.7"/>
<circle cx="297.0" cy="657.8" r="2.75" fill="#A5A5A5" stroke="#8F8F8F" stroke-width="0.7"/>
<circle cx="297.0" cy="662.8" r="2.75" fill="#A5A5A5" stroke="#8F8F8F" stroke-width="0.7"/>
<circle cx="297.0" cy="668.1" r="2.75" fill="#A5A5A5" stroke="#8F8F8F" stroke-width="0.7"/>
<circle cx="297.0" cy="673.1" r="2.75" fill="#A5A5A5" stroke="#8F8F8F" stroke-width="0.7"/>
<circle cx="297.0" cy="759.9" r="2.75" fill="#A5A5A5" stroke="#8F8F8F" stroke-width="0.7"/>
<circle cx="297.0" cy="764.7" r="2.75" fill="#A5A5A5" stroke="#8F8F8F" stroke-width="0.7"/>
<circle cx="297.0" cy="770.5" r="2.75" fill="#A5A5A5" stroke="#8F8F8F" stroke-width="0.7"/>
<circle cx="297.0" cy="776.2" r="2.75" fill="#A5A5A5" stroke="#8F8F8F" stroke-width="0.7"/>
<line x1="309.5" y1="693" x2="309.5" y2="654.1" stroke="#F0B325" stroke-width="1.2"/>
<line x1="309.5" y1="719" x2="309.5" y2="756.5" stroke="#F0B325" stroke-width="1.2"/>
<line x1="307.6" y1="756.5" x2="311.4" y2="756.5" stroke="#F0B325" stroke-width="1.2"/>
<rect x="303.5" y="693.5" width="12" height="25" fill="#FFC000" stroke="#EAAB00" stroke-width="1"/>
<line x1="303.5" y1="703.5" x2="315.5" y2="703.5" stroke="#E2A200" stroke-width="1"/>
<path d="M304.7,700.5 L313.9,709.7 M304.7,709.7 L313.9,700.5" stroke="#E2A200" stroke-width="1.15" fill="none"/>
<circle cx="309.3" cy="642.0" r="2.75" fill="#FFC000" stroke="#E8AE00" stroke-width="0.7"/>
<circle cx="309.3" cy="647.7" r="2.75" fill="#FFC000" stroke="#E8AE00" stroke-width="0.7"/>
<circle cx="309.3" cy="654.1" r="2.75" fill="#FFC000" stroke="#E8AE00" stroke-width="0.7"/>
<circle cx="309.3" cy="760.6" r="2.75" fill="#FFC000" stroke="#E8AE00" stroke-width="0.7"/>
<circle cx="309.3" cy="765.7" r="2.75" fill="#FFC000" stroke="#E8AE00" stroke-width="0.7"/>
<circle cx="309.3" cy="772.6" r="2.75" fill="#FFC000" stroke="#E8AE00" stroke-width="0.7"/>
<circle cx="309.3" cy="778.5" r="2.75" fill="#FFC000" stroke="#E8AE00" stroke-width="0.7"/>
<line x1="322.5" y1="689" x2="322.5" y2="650.3" stroke="#3597D2" stroke-width="1.2"/>
<line x1="322.5" y1="716" x2="322.5" y2="754.4" stroke="#3597D2" stroke-width="1.2"/>
<line x1="320.6" y1="754.5" x2="324.4" y2="754.5" stroke="#3597D2" stroke-width="1.2"/>
<rect x="316.5" y="689.5" width="12" height="26" fill="#189CDC" stroke="#1882C0" stroke-width="1"/>
<line x1="316.5" y1="703.5" x2="328.5" y2="703.5" stroke="#1780BE" stroke-width="1"/>
<path d="M318.1,698.4 L327.3,707.6 M318.1,707.6 L327.3,698.4" stroke="#1780BE" stroke-width="1.15" fill="none"/>
<circle cx="322.7" cy="639.6" r="2.75" fill="#189CDC" stroke="#1C88C4" stroke-width="0.7"/>
<circle cx="322.7" cy="645.1" r="2.75" fill="#189CDC" stroke="#1C88C4" stroke-width="0.7"/>
<circle cx="322.7" cy="650.3" r="2.75" fill="#189CDC" stroke="#1C88C4" stroke-width="0.7"/>
<circle cx="322.7" cy="760.1" r="2.75" fill="#189CDC" stroke="#1C88C4" stroke-width="0.7"/>
<circle cx="322.7" cy="765.9" r="2.75" fill="#189CDC" stroke="#1C88C4" stroke-width="0.7"/>
<circle cx="322.7" cy="772.6" r="2.75" fill="#189CDC" stroke="#1C88C4" stroke-width="0.7"/>
<rect x="365.5" y="552.2" width="181.0" height="270.0999999999999" fill="none" stroke="#E1E1E1" stroke-width="1.3"/>
<line x1="436.1" y1="569.7" x2="436.1" y2="805.4000000000001" stroke="#D9D9D9" stroke-width="1.2"/>
<text x="425.7" y="574.3" class="tk" font-size="13">2</text>
<text x="425.7" y="608.0" class="tk" font-size="13">1.5</text>
<text x="425.7" y="641.6" class="tk" font-size="13">1</text>
<text x="425.7" y="675.3" class="tk" font-size="13">0.5</text>
<text x="425.7" y="709.0" class="tk" font-size="13">0</text>
<text x="425.7" y="742.7" class="tk" font-size="13">-0.5</text>
<text x="425.7" y="776.3" class="tk" font-size="13">-1</text>
<text x="425.7" y="810.0" class="tk" font-size="13">-1.5</text>
<line x1="436.1" y1="704.4" x2="531.8" y2="704.4" stroke="#3C3C3C" stroke-width="1.6" stroke-dasharray="4.8 3.3"/>
<text transform="translate(387.9,687.3) rotate(-90)" class="tt" text-anchor="middle">LnRR  MM</text>
<line x1="465.5" y1="683" x2="465.5" y2="641.0" stroke="#EF8743" stroke-width="1.2"/>
<line x1="465.5" y1="711" x2="465.5" y2="754.6" stroke="#EF8743" stroke-width="1.2"/>
<rect x="459.5" y="683.5" width="12" height="27" fill="#FA7E27" stroke="#E06C1F" stroke-width="1"/>
<line x1="459.5" y1="698.5" x2="471.5" y2="698.5" stroke="#D96A22" stroke-width="1"/>
<path d="M461.2,695.0 L470.4,704.2 M461.2,704.2 L470.4,695.0" stroke="#D96A22" stroke-width="1.15" fill="none"/>
<circle cx="465.8" cy="602.6" r="2.75" fill="#FA7E27" stroke="#E26E20" stroke-width="0.7"/>
<circle cx="465.8" cy="612.8" r="2.75" fill="#FA7E27" stroke="#E26E20" stroke-width="0.7"/>
<circle cx="465.8" cy="620.3" r="2.75" fill="#FA7E27" stroke="#E26E20" stroke-width="0.7"/>
<circle cx="465.8" cy="626.7" r="2.75" fill="#FA7E27" stroke="#E26E20" stroke-width="0.7"/>
<circle cx="465.8" cy="635.8" r="2.75" fill="#FA7E27" stroke="#E26E20" stroke-width="0.7"/>
<circle cx="465.8" cy="641.0" r="2.75" fill="#FA7E27" stroke="#E26E20" stroke-width="0.7"/>
<circle cx="465.8" cy="754.6" r="2.75" fill="#FA7E27" stroke="#E26E20" stroke-width="0.7"/>
<circle cx="465.8" cy="760.6" r="2.75" fill="#FA7E27" stroke="#E26E20" stroke-width="0.7"/>
<circle cx="465.8" cy="765.9" r="2.75" fill="#FA7E27" stroke="#E26E20" stroke-width="0.7"/>
<circle cx="465.8" cy="782.6" r="2.75" fill="#FA7E27" stroke="#E26E20" stroke-width="0.7"/>
<line x1="478.5" y1="686" x2="478.5" y2="646.5" stroke="#9A9A9A" stroke-width="1.2"/>
<line x1="478.5" y1="712" x2="478.5" y2="749.6" stroke="#9A9A9A" stroke-width="1.2"/>
<line x1="476.6" y1="749.5" x2="480.4" y2="749.5" stroke="#9A9A9A" stroke-width="1.2"/>
<rect x="472.5" y="686.5" width="11" height="25" fill="#A5A5A5" stroke="#8E8E8E" stroke-width="1"/>
<line x1="472.5" y1="698.5" x2="483.5" y2="698.5" stroke="#878787" stroke-width="1"/>
<path d="M473.5,693.4 L482.7,702.6 M473.5,702.6 L482.7,693.4" stroke="#878787" stroke-width="1.15" fill="none"/>
<circle cx="478.1" cy="602.1" r="2.75" fill="#A5A5A5" stroke="#8F8F8F" stroke-width="0.7"/>
<circle cx="478.1" cy="609.1" r="2.75" fill="#A5A5A5" stroke="#8F8F8F" stroke-width="0.7"/>
<circle cx="478.1" cy="615.0" r="2.75" fill="#A5A5A5" stroke="#8F8F8F" stroke-width="0.7"/>
<circle cx="478.1" cy="624.8" r="2.75" fill="#A5A5A5" stroke="#8F8F8F" stroke-width="0.7"/>
<circle cx="478.1" cy="630.8" r="2.75" fill="#A5A5A5" stroke="#8F8F8F" stroke-width="0.7"/>
<circle cx="478.1" cy="636.4" r="2.75" fill="#A5A5A5" stroke="#8F8F8F" stroke-width="0.7"/>
<circle cx="478.1" cy="641.5" r="2.75" fill="#A5A5A5" stroke="#8F8F8F" stroke-width="0.7"/>
<circle cx="478.1" cy="646.5" r="2.75" fill="#A5A5A5" stroke="#8F8F8F" stroke-width="0.7"/>
<circle cx="478.1" cy="760.9" r="2.75" fill="#A5A5A5" stroke="#8F8F8F" stroke-width="0.7"/>
<line x1="490.5" y1="679" x2="490.5" y2="636.7" stroke="#F0B325" stroke-width="1.2"/>
<line x1="490.5" y1="706" x2="490.5" y2="746.3" stroke="#F0B325" stroke-width="1.2"/>
<line x1="488.6" y1="746.5" x2="492.4" y2="746.5" stroke="#F0B325" stroke-width="1.2"/>
<rect x="484.5" y="679.5" width="12" height="26" fill="#FFC000" stroke="#EAAB00" stroke-width="1"/>
<line x1="484.5" y1="692.5" x2="496.5" y2="692.5" stroke="#E2A200" stroke-width="1"/>
<path d="M486.1,687.8 L495.3,697.0 M486.1,697.0 L495.3,687.8" stroke="#E2A200" stroke-width="1.15" fill="none"/>
<circle cx="490.7" cy="602.1" r="2.75" fill="#FFC000" stroke="#E8AE00" stroke-width="0.7"/>
<circle cx="490.7" cy="607.8" r="2.75" fill="#FFC000" stroke="#E8AE00" stroke-width="0.7"/>
<circle cx="490.7" cy="613.6" r="2.75" fill="#FFC000" stroke="#E8AE00" stroke-width="0.7"/>
<circle cx="490.7" cy="619.0" r="2.75" fill="#FFC000" stroke="#E8AE00" stroke-width="0.7"/>
<circle cx="490.7" cy="625.3" r="2.75" fill="#FFC000" stroke="#E8AE00" stroke-width="0.7"/>
<circle cx="490.7" cy="631.0" r="2.75" fill="#FFC000" stroke="#E8AE00" stroke-width="0.7"/>
<circle cx="490.7" cy="636.7" r="2.75" fill="#FFC000" stroke="#E8AE00" stroke-width="0.7"/>
<circle cx="490.7" cy="757.7" r="2.75" fill="#FFC000" stroke="#E8AE00" stroke-width="0.7"/>
<circle cx="490.7" cy="764.4" r="2.75" fill="#FFC000" stroke="#E8AE00" stroke-width="0.7"/>
<line x1="503.5" y1="685" x2="503.5" y2="655.4" stroke="#3597D2" stroke-width="1.2"/>
<line x1="503.5" y1="706" x2="503.5" y2="737.5" stroke="#3597D2" stroke-width="1.2"/>
<rect x="498.5" y="685.5" width="11" height="20" fill="#189CDC" stroke="#1882C0" stroke-width="1"/>
<line x1="498.5" y1="697.5" x2="509.5" y2="697.5" stroke="#1780BE" stroke-width="1"/>
<path d="M499.3,689.8 L508.5,699.0 M499.3,699.0 L508.5,689.8" stroke="#1780BE" stroke-width="1.15" fill="none"/>
<circle cx="503.9" cy="606.2" r="2.75" fill="#189CDC" stroke="#1C88C4" stroke-width="0.7"/>
<circle cx="503.9" cy="614.0" r="2.75" fill="#189CDC" stroke="#1C88C4" stroke-width="0.7"/>
<circle cx="503.9" cy="619.0" r="2.75" fill="#189CDC" stroke="#1C88C4" stroke-width="0.7"/>
<circle cx="503.9" cy="624.4" r="2.75" fill="#189CDC" stroke="#1C88C4" stroke-width="0.7"/>
<circle cx="503.9" cy="631.0" r="2.75" fill="#189CDC" stroke="#1C88C4" stroke-width="0.7"/>
<circle cx="503.9" cy="639.1" r="2.75" fill="#189CDC" stroke="#1C88C4" stroke-width="0.7"/>
<circle cx="503.9" cy="644.4" r="2.75" fill="#189CDC" stroke="#1C88C4" stroke-width="0.7"/>
<circle cx="503.9" cy="650.1" r="2.75" fill="#189CDC" stroke="#1C88C4" stroke-width="0.7"/>
<circle cx="503.9" cy="655.4" r="2.75" fill="#189CDC" stroke="#1C88C4" stroke-width="0.7"/>
<circle cx="503.9" cy="737.5" r="2.75" fill="#189CDC" stroke="#1C88C4" stroke-width="0.7"/>
<circle cx="503.9" cy="742.2" r="2.75" fill="#189CDC" stroke="#1C88C4" stroke-width="0.7"/>
<circle cx="503.9" cy="748.0" r="2.75" fill="#189CDC" stroke="#1C88C4" stroke-width="0.7"/>
<circle cx="503.9" cy="757.2" r="2.75" fill="#189CDC" stroke="#1C88C4" stroke-width="0.7"/>
<rect x="150.4" y="860.4" width="171.49999999999997" height="256.4" fill="none" stroke="#E1E1E1" stroke-width="1.3"/>
<line x1="205.8" y1="876.1" x2="205.8" y2="1101.3" stroke="#D9D9D9" stroke-width="1.2"/>
<text x="196.0" y="880.4" class="tk" font-size="12.2">3</text>
<text x="196.0" y="912.6" class="tk" font-size="12.2">2</text>
<text x="196.0" y="944.8" class="tk" font-size="12.2">1</text>
<text x="196.0" y="976.9" class="tk" font-size="12.2">0</text>
<text x="196.0" y="1009.1" class="tk" font-size="12.2">-1</text>
<text x="196.0" y="1041.3" class="tk" font-size="12.2">-2</text>
<text x="196.0" y="1073.4" class="tk" font-size="12.2">-3</text>
<text x="196.0" y="1105.6" class="tk" font-size="12.2">-4</text>
<line x1="205.8" y1="972.6" x2="311.8" y2="972.6" stroke="#5A5A5A" stroke-width="1.1" stroke-dasharray="4.9 3.1"/>
<text transform="translate(171.6,988.2) rotate(-90)" class="tt" text-anchor="middle">LnRR  P</text>
<line x1="237.5" y1="958" x2="237.5" y2="926.5" stroke="#EF8743" stroke-width="1.2"/>
<line x1="237.5" y1="987" x2="237.5" y2="1029.7" stroke="#EF8743" stroke-width="1.2"/>
<line x1="235.6" y1="926.5" x2="239.4" y2="926.5" stroke="#EF8743" stroke-width="1.2"/>
<rect x="231.5" y="958.5" width="13" height="28" fill="#FA7E27" stroke="#E06C1F" stroke-width="1"/>
<line x1="231.5" y1="972.5" x2="244.5" y2="972.5" stroke="#D96A22" stroke-width="1"/>
<path d="M232.8,967.4 L242.0,976.6 M232.8,976.6 L242.0,967.4" stroke="#D96A22" stroke-width="1.15" fill="none"/>
<circle cx="237.4" cy="914.0" r="2.75" fill="#FA7E27" stroke="#E26E20" stroke-width="0.7"/>
<circle cx="237.4" cy="1029.7" r="2.75" fill="#FA7E27" stroke="#E26E20" stroke-width="0.7"/>
<circle cx="237.4" cy="1036.2" r="2.75" fill="#FA7E27" stroke="#E26E20" stroke-width="0.7"/>
<line x1="251.5" y1="958" x2="251.5" y2="915.5" stroke="#9A9A9A" stroke-width="1.2"/>
<line x1="251.5" y1="984" x2="251.5" y2="1023.2" stroke="#9A9A9A" stroke-width="1.2"/>
<line x1="249.6" y1="1023.5" x2="253.4" y2="1023.5" stroke="#9A9A9A" stroke-width="1.2"/>
<rect x="245.5" y="958.5" width="12" height="25" fill="#A5A5A5" stroke="#8E8E8E" stroke-width="1"/>
<line x1="245.5" y1="971.5" x2="257.5" y2="971.5" stroke="#878787" stroke-width="1"/>
<path d="M246.4,966.4 L255.6,975.6 M246.4,975.6 L255.6,966.4" stroke="#878787" stroke-width="1.15" fill="none"/>
<circle cx="251.0" cy="899.9" r="2.75" fill="#A5A5A5" stroke="#8F8F8F" stroke-width="0.7"/>
<circle cx="251.0" cy="909.5" r="2.75" fill="#A5A5A5" stroke="#8F8F8F" stroke-width="0.7"/>
<circle cx="251.0" cy="915.5" r="2.75" fill="#A5A5A5" stroke="#8F8F8F" stroke-width="0.7"/>
<circle cx="251.0" cy="1029.7" r="2.75" fill="#A5A5A5" stroke="#8F8F8F" stroke-width="0.7"/>
<line x1="264.5" y1="952" x2="264.5" y2="912.6" stroke="#F0B325" stroke-width="1.2"/>
<line x1="264.5" y1="982" x2="264.5" y2="1027.0" stroke="#F0B325" stroke-width="1.2"/>
<line x1="262.6" y1="912.5" x2="266.4" y2="912.5" stroke="#F0B325" stroke-width="1.2"/>
<rect x="258.5" y="952.5" width="13" height="29" fill="#FFC000" stroke="#EAAB00" stroke-width="1"/>
<line x1="258.5" y1="966.5" x2="271.5" y2="966.5" stroke="#E2A200" stroke-width="1"/>
<path d="M260.1,962.4 L269.3,971.6 M260.1,971.6 L269.3,962.4" stroke="#E2A200" stroke-width="1.15" fill="none"/>
<circle cx="264.7" cy="900.2" r="2.75" fill="#FFC000" stroke="#E8AE00" stroke-width="0.7"/>
<circle cx="264.7" cy="907.5" r="2.75" fill="#FFC000" stroke="#E8AE00" stroke-width="0.7"/>
<circle cx="264.7" cy="1027.0" r="2.75" fill="#FFC000" stroke="#E8AE00" stroke-width="0.7"/>
<line x1="277.5" y1="968" x2="277.5" y2="917.1" stroke="#3597D2" stroke-width="1.2"/>
<line x1="277.5" y1="1002" x2="277.5" y2="1049.3" stroke="#3597D2" stroke-width="1.2"/>
<line x1="275.6" y1="1049.5" x2="279.4" y2="1049.5" stroke="#3597D2" stroke-width="1.2"/>
<rect x="272.5" y="968.5" width="11" height="33" fill="#189CDC" stroke="#1882C0" stroke-width="1"/>
<line x1="272.5" y1="982.5" x2="283.5" y2="982.5" stroke="#1780BE" stroke-width="1"/>
<path d="M273.1,982.3 L282.3,991.5 M273.1,991.5 L282.3,982.3" stroke="#1780BE" stroke-width="1.15" fill="none"/>
<circle cx="277.7" cy="917.1" r="2.75" fill="#189CDC" stroke="#1C88C4" stroke-width="0.7"/>
<circle cx="277.7" cy="1054.4" r="2.75" fill="#189CDC" stroke="#1C88C4" stroke-width="0.7"/>
<circle cx="277.7" cy="1059.8" r="2.75" fill="#189CDC" stroke="#1C88C4" stroke-width="0.7"/>
<circle cx="277.7" cy="1064.3" r="2.75" fill="#189CDC" stroke="#1C88C4" stroke-width="0.7"/>
<circle cx="277.7" cy="1068.9" r="2.75" fill="#189CDC" stroke="#1C88C4" stroke-width="0.7"/>
<circle cx="277.7" cy="1073.7" r="2.75" fill="#189CDC" stroke="#1C88C4" stroke-width="0.7"/>
<circle cx="277.7" cy="1079.0" r="2.75" fill="#189CDC" stroke="#1C88C4" stroke-width="0.7"/>
<circle cx="277.7" cy="1083.8" r="2.75" fill="#189CDC" stroke="#1C88C4" stroke-width="0.7"/>
<circle cx="277.7" cy="1090.2" r="2.75" fill="#189CDC" stroke="#1C88C4" stroke-width="0.7"/>
<rect x="323.5" y="860.4" width="171.3" height="256.4" fill="none" stroke="#E1E1E1" stroke-width="1.3"/>
<line x1="389.5" y1="876.1" x2="389.5" y2="1101.3" stroke="#D9D9D9" stroke-width="1.2"/>
<text x="379.0" y="880.4" class="tk" font-size="12.2">3</text>
<text x="379.0" y="902.9" class="tk" font-size="12.2">2.5</text>
<text x="379.0" y="925.5" class="tk" font-size="12.2">2</text>
<text x="379.0" y="948.0" class="tk" font-size="12.2">1.5</text>
<text x="379.0" y="970.5" class="tk" font-size="12.2">1</text>
<text x="379.0" y="993.0" class="tk" font-size="12.2">0.5</text>
<text x="379.0" y="1015.5" class="tk" font-size="12.2">0</text>
<text x="379.0" y="1038.1" class="tk" font-size="12.2">-0.5</text>
<text x="379.0" y="1060.6" class="tk" font-size="12.2">-1</text>
<text x="379.0" y="1083.1" class="tk" font-size="12.2">-1.5</text>
<text x="379.0" y="1105.6" class="tk" font-size="12.2">-2</text>
<line x1="389.5" y1="1011.2" x2="482.6" y2="1011.2" stroke="#3C3C3C" stroke-width="1.6" stroke-dasharray="4.8 3.3"/>
<text transform="translate(344.7,988.2) rotate(-90)" class="tt" text-anchor="middle">LnRR  Na/K</text>
<line x1="417.5" y1="1000" x2="417.5" y2="966.4" stroke="#EF8743" stroke-width="1.2"/>
<line x1="417.5" y1="1023" x2="417.5" y2="1056.8" stroke="#EF8743" stroke-width="1.2"/>
<rect x="412.5" y="1000.5" width="11" height="22" fill="#FA7E27" stroke="#E06C1F" stroke-width="1"/>
<line x1="412.5" y1="1010.5" x2="423.5" y2="1010.5" stroke="#D96A22" stroke-width="1"/>
<path d="M413.3,1006.0 L422.5,1015.2 M413.3,1015.2 L422.5,1006.0" stroke="#D96A22" stroke-width="1.15" fill="none"/>
<circle cx="417.9" cy="944.8" r="2.75" fill="#FA7E27" stroke="#E26E20" stroke-width="0.7"/>
<circle cx="417.9" cy="955.7" r="2.75" fill="#FA7E27" stroke="#E26E20" stroke-width="0.7"/>
<circle cx="417.9" cy="960.8" r="2.75" fill="#FA7E27" stroke="#E26E20" stroke-width="0.7"/>
<circle cx="417.9" cy="966.4" r="2.75" fill="#FA7E27" stroke="#E26E20" stroke-width="0.7"/>
<circle cx="417.9" cy="1056.8" r="2.75" fill="#FA7E27" stroke="#E26E20" stroke-width="0.7"/>
<circle cx="417.9" cy="1061.8" r="2.75" fill="#FA7E27" stroke="#E26E20" stroke-width="0.7"/>
<circle cx="417.9" cy="1066.8" r="2.75" fill="#FA7E27" stroke="#E26E20" stroke-width="0.7"/>
<circle cx="417.9" cy="1073.7" r="2.75" fill="#FA7E27" stroke="#E26E20" stroke-width="0.7"/>
<circle cx="417.9" cy="1078.8" r="2.75" fill="#FA7E27" stroke="#E26E20" stroke-width="0.7"/>
<line x1="429.5" y1="1004" x2="429.5" y2="988.6" stroke="#9A9A9A" stroke-width="1.2"/>
<line x1="429.5" y1="1015" x2="429.5" y2="1033.0" stroke="#9A9A9A" stroke-width="1.2"/>
<rect x="424.5" y="1004.5" width="10" height="10" fill="#A5A5A5" stroke="#8E8E8E" stroke-width="1"/>
<line x1="424.5" y1="1010.5" x2="434.5" y2="1010.5" stroke="#878787" stroke-width="1"/>
<path d="M425.3,1005.4 L434.5,1014.6 M425.3,1014.6 L434.5,1005.4" stroke="#878787" stroke-width="1.15" fill="none"/>
<circle cx="429.9" cy="924.8" r="2.75" fill="#A5A5A5" stroke="#8F8F8F" stroke-width="0.7"/>
<circle cx="429.9" cy="934.8" r="2.75" fill="#A5A5A5" stroke="#8F8F8F" stroke-width="0.7"/>
<circle cx="429.9" cy="939.6" r="2.75" fill="#A5A5A5" stroke="#8F8F8F" stroke-width="0.7"/>
<circle cx="429.9" cy="944.8" r="2.75" fill="#A5A5A5" stroke="#8F8F8F" stroke-width="0.7"/>
<circle cx="429.9" cy="949.6" r="2.75" fill="#A5A5A5" stroke="#8F8F8F" stroke-width="0.7"/>
<circle cx="429.9" cy="956.0" r="2.75" fill="#A5A5A5" stroke="#8F8F8F" stroke-width="0.7"/>
<circle cx="429.9" cy="962.6" r="2.75" fill="#A5A5A5" stroke="#8F8F8F" stroke-width="0.7"/>
<circle cx="429.9" cy="968.8" r="2.75" fill="#A5A5A5" stroke="#8F8F8F" stroke-width="0.7"/>
<circle cx="429.9" cy="973.9" r="2.75" fill="#A5A5A5" stroke="#8F8F8F" stroke-width="0.7"/>
<circle cx="429.9" cy="978.8" r="2.75" fill="#A5A5A5" stroke="#8F8F8F" stroke-width="0.7"/>
<circle cx="429.9" cy="984.1" r="2.75" fill="#A5A5A5" stroke="#8F8F8F" stroke-width="0.7"/>
<circle cx="429.9" cy="988.6" r="2.75" fill="#A5A5A5" stroke="#8F8F8F" stroke-width="0.7"/>
<circle cx="429.9" cy="1033.0" r="2.75" fill="#A5A5A5" stroke="#8F8F8F" stroke-width="0.7"/>
<circle cx="429.9" cy="1038.0" r="2.75" fill="#A5A5A5" stroke="#8F8F8F" stroke-width="0.7"/>
<circle cx="429.9" cy="1043.2" r="2.75" fill="#A5A5A5" stroke="#8F8F8F" stroke-width="0.7"/>
<circle cx="429.9" cy="1048.2" r="2.75" fill="#A5A5A5" stroke="#8F8F8F" stroke-width="0.7"/>
<circle cx="429.9" cy="1053.2" r="2.75" fill="#A5A5A5" stroke="#8F8F8F" stroke-width="0.7"/>
<circle cx="429.9" cy="1058.2" r="2.75" fill="#A5A5A5" stroke="#8F8F8F" stroke-width="0.7"/>
<circle cx="429.9" cy="1063.2" r="2.75" fill="#A5A5A5" stroke="#8F8F8F" stroke-width="0.7"/>
<circle cx="429.9" cy="1070.2" r="2.75" fill="#A5A5A5" stroke="#8F8F8F" stroke-width="0.7"/>
<circle cx="429.9" cy="1076.4" r="2.75" fill="#A5A5A5" stroke="#8F8F8F" stroke-width="0.7"/>
<circle cx="429.9" cy="1082.6" r="2.75" fill="#A5A5A5" stroke="#8F8F8F" stroke-width="0.7"/>
<line x1="441.5" y1="1002" x2="441.5" y2="968.8" stroke="#F0B325" stroke-width="1.2"/>
<line x1="441.5" y1="1026" x2="441.5" y2="1059.2" stroke="#F0B325" stroke-width="1.2"/>
<line x1="439.6" y1="1059.5" x2="443.4" y2="1059.5" stroke="#F0B325" stroke-width="1.2"/>
<rect x="435.5" y="1002.5" width="12" height="23" fill="#FFC000" stroke="#EAAB00" stroke-width="1"/>
<line x1="435.5" y1="1013.5" x2="447.5" y2="1013.5" stroke="#E2A200" stroke-width="1"/>
<path d="M437.1,1008.4 L446.3,1017.6 M437.1,1017.6 L446.3,1008.4" stroke="#E2A200" stroke-width="1.15" fill="none"/>
<circle cx="441.7" cy="922.5" r="2.75" fill="#FFC000" stroke="#E8AE00" stroke-width="0.7"/>
<circle cx="441.7" cy="933.4" r="2.75" fill="#FFC000" stroke="#E8AE00" stroke-width="0.7"/>
<circle cx="441.7" cy="938.6" r="2.75" fill="#FFC000" stroke="#E8AE00" stroke-width="0.7"/>
<circle cx="441.7" cy="943.6" r="2.75" fill="#FFC000" stroke="#E8AE00" stroke-width="0.7"/>
<circle cx="441.7" cy="948.4" r="2.75" fill="#FFC000" stroke="#E8AE00" stroke-width="0.7"/>
<circle cx="441.7" cy="954.7" r="2.75" fill="#FFC000" stroke="#E8AE00" stroke-width="0.7"/>
<circle cx="441.7" cy="959.2" r="2.75" fill="#FFC000" stroke="#E8AE00" stroke-width="0.7"/>
<circle cx="441.7" cy="964.0" r="2.75" fill="#FFC000" stroke="#E8AE00" stroke-width="0.7"/>
<circle cx="441.7" cy="968.8" r="2.75" fill="#FFC000" stroke="#E8AE00" stroke-width="0.7"/>
<circle cx="441.7" cy="1063.0" r="2.75" fill="#FFC000" stroke="#E8AE00" stroke-width="0.7"/>
<circle cx="441.7" cy="1068.0" r="2.75" fill="#FFC000" stroke="#E8AE00" stroke-width="0.7"/>
<circle cx="441.7" cy="1073.0" r="2.75" fill="#FFC000" stroke="#E8AE00" stroke-width="0.7"/>
<circle cx="441.7" cy="1078.1" r="2.75" fill="#FFC000" stroke="#E8AE00" stroke-width="0.7"/>
<circle cx="441.7" cy="1085.2" r="2.75" fill="#FFC000" stroke="#E8AE00" stroke-width="0.7"/>
<circle cx="441.7" cy="1090.3" r="2.75" fill="#FFC000" stroke="#E8AE00" stroke-width="0.7"/>
<line x1="454.5" y1="971" x2="454.5" y2="911.8" stroke="#3597D2" stroke-width="1.2"/>
<line x1="454.5" y1="1011" x2="454.5" y2="1070.8" stroke="#3597D2" stroke-width="1.2"/>
<rect x="448.5" y="971.5" width="11" height="39" fill="#189CDC" stroke="#1882C0" stroke-width="1"/>
<line x1="448.5" y1="1006.5" x2="459.5" y2="1006.5" stroke="#1780BE" stroke-width="1"/>
<path d="M449.9,988.6 L459.1,997.8 M449.9,997.8 L459.1,988.6" stroke="#1780BE" stroke-width="1.15" fill="none"/>
<circle cx="454.5" cy="898.0" r="2.75" fill="#189CDC" stroke="#1C88C4" stroke-width="0.7"/>
<circle cx="454.5" cy="905.9" r="2.75" fill="#189CDC" stroke="#1C88C4" stroke-width="0.7"/>
<circle cx="454.5" cy="911.8" r="2.75" fill="#189CDC" stroke="#1C88C4" stroke-width="0.7"/>
<circle cx="454.5" cy="1070.8" r="2.75" fill="#189CDC" stroke="#1C88C4" stroke-width="0.7"/>
<circle cx="454.5" cy="1081.7" r="2.75" fill="#189CDC" stroke="#1C88C4" stroke-width="0.7"/>
<line x1="583.2" y1="548" x2="583.2" y2="721" stroke="#DDDDDD" stroke-width="1.5"/>
<circle cx="583.1" cy="548.3" r="4.4" fill="#DCDCDC"/>
<rect x="584.4" y="623.5" width="11" height="11" fill="#FA7E27" stroke="#E06C1F" stroke-width="1"/>
<text x="601.4" y="634.1" font-size="12.3" class="lg">Stage 1</text>
<rect x="584.4" y="652.3" width="11" height="11" fill="#A5A5A5" stroke="#8E8E8E" stroke-width="1"/>
<text x="601.4" y="662.9" font-size="12.3" class="lg">Stage 2</text>
<rect x="584.4" y="681.1" width="11" height="11" fill="#FFC000" stroke="#EAAB00" stroke-width="1"/>
<text x="601.4" y="691.7" font-size="12.3" class="lg">Stage 3</text>
<rect x="584.4" y="709.7" width="11" height="11" fill="#189CDC" stroke="#1882C0" stroke-width="1"/>
<text x="601.4" y="720.3" font-size="12.3" class="lg">Stage 4</text>
<rect x="522.6" y="940.3" width="11" height="11" fill="#FA7E27" stroke="#E06C1F" stroke-width="1"/>
<text x="539.4" y="950.9" font-size="11.7" class="lg">Stage 1</text>
<rect x="522.6" y="967.3" width="11" height="11" fill="#A5A5A5" stroke="#8E8E8E" stroke-width="1"/>
<text x="539.4" y="977.9" font-size="11.7" class="lg">Stage 2</text>
<rect x="522.6" y="994.5" width="11" height="11" fill="#FFC000" stroke="#EAAB00" stroke-width="1"/>
<text x="539.4" y="1005.1" font-size="11.7" class="lg">Stage 3</text>
<rect x="522.6" y="1021.7" width="11" height="11" fill="#189CDC" stroke="#1882C0" stroke-width="1"/>
<text x="539.4" y="1032.3" font-size="11.7" class="lg">Stage 4</text>
<text transform="translate(365.1,849) scale(0.93,1)" class="cap" text-anchor="middle">(<tspan font-weight="bold">a</tspan>)</text>
<text x="365.2" y="1142.6" class="cap" text-anchor="middle">(<tspan font-weight="bold">b</tspan>)</text>
<g class="gl"><path d="M-2.4,-2.4 C-1,-3.7 2.2,-3.7 2.3,-1.4 L2.3,3.1 L3.7,3.1 M2.3,-0.3 C-0.3,-0.8 -3.3,0 -3.3,1.7 C-3.3,3.8 0.8,3.9 2.3,2" transform="translate(95.0,36.0) scale(1.0,1.0)" />
<path d="M0,-5.3 C3.5,-5.3 3.5,5.3 0,5.3 C-3.5,5.3 -3.5,-5.3 0,-5.3 Z" transform="translate(95.0,46.6) scale(1.0,1.0)" />
<path d="M-2.4,-2.4 C-1,-3.7 2.2,-3.7 2.3,-1.4 L2.3,3.1 L3.7,3.1 M2.3,-0.3 C-0.3,-0.8 -3.3,0 -3.3,1.7 C-3.3,3.8 0.8,3.9 2.3,2" transform="translate(109.1,28.5) scale(1.0,1.0)" />
<path d="M0,-5.3 C3.5,-5.3 3.5,5.3 0,5.3 C-3.5,5.3 -3.5,-5.3 0,-5.3 Z" transform="translate(109.1,39.6) scale(1.0,1.0)" />
<path d="M-2.9,-5.2 L-1.4,-5.2 L-1.4,5.0 L-2.9,5.0 M-1.4,1.5 C-1.4,-3.3 6.2,-3.3 6.2,1.5 C6.2,6.3 -1.4,6.3 -1.4,1.5" transform="translate(123.6,24.2) scale(1.0,1.0)" />
<path d="M0.2,-5.3 L0.2,4.9 M0.2,-5.3 L-2.9,-3.5 M-3.3,4.9 L3.7,4.9" transform="translate(123.6,36.7) scale(1.0,1.0)" />
<path d="M3.5,-1.5 L3.5,-3.6 M3.5,-2.5 C2.5,-4 -0.4,-4.3 -2.2,-2.8 C-4.4,-0.9 -3.7,3.8 0.3,3.8 C1.8,3.8 3,3.1 3.8,2.3" transform="translate(137.4,42.1) scale(1.0,1.0)" />
<path d="M0.2,-5.3 L0.2,4.9 M0.2,-5.3 L-2.9,-3.5 M-3.3,4.9 L3.7,4.9" transform="translate(137.4,53.5) scale(1.0,1.0)" />
<path d="M-2.4,-2.4 C-1,-3.7 2.2,-3.7 2.3,-1.4 L2.3,3.1 L3.7,3.1 M2.3,-0.3 C-0.3,-0.8 -3.3,0 -3.3,1.7 C-3.3,3.8 0.8,3.9 2.3,2" transform="translate(277.0,58.9) scale(1.0,1.0)" />
<path d="M0,-5.3 C3.5,-5.3 3.5,5.3 0,5.3 C-3.5,5.3 -3.5,-5.3 0,-5.3 Z" transform="translate(277.0,69.8) scale(1.0,1.0)" />
<path d="M-2.4,-2.4 C-1,-3.7 2.2,-3.7 2.3,-1.4 L2.3,3.1 L3.7,3.1 M2.3,-0.3 C-0.3,-0.8 -3.3,0 -3.3,1.7 C-3.3,3.8 0.8,3.9 2.3,2" transform="translate(290.6,46.3) scale(1.0,1.0)" />
<path d="M0,-5.3 C3.5,-5.3 3.5,5.3 0,5.3 C-3.5,5.3 -3.5,-5.3 0,-5.3 Z" transform="translate(290.6,56.7) scale(1.0,1.0)" />
<path d="M-2.9,-5.2 L-1.4,-5.2 L-1.4,5.0 L-2.9,5.0 M-1.4,1.5 C-1.4,-3.3 6.2,-3.3 6.2,1.5 C6.2,6.3 -1.4,6.3 -1.4,1.5" transform="translate(304.9,43.0) scale(1.0,1.0)" />
<path d="M0,-5.3 C3.5,-5.3 3.5,5.3 0,5.3 C-3.5,5.3 -3.5,-5.3 0,-5.3 Z" transform="translate(304.9,55.0) scale(1.0,1.0)" />
<path d="M3.5,-1.5 L3.5,-3.6 M3.5,-2.5 C2.5,-4 -0.4,-4.3 -2.2,-2.8 C-4.4,-0.9 -3.7,3.8 0.3,3.8 C1.8,3.8 3,3.1 3.8,2.3" transform="translate(318.8,31.5) scale(1.0,1.0)" />
<path d="M0.2,-5.3 L0.2,4.9 M0.2,-5.3 L-2.9,-3.5 M-3.3,4.9 L3.7,4.9" transform="translate(318.8,42.4) scale(1.0,1.0)" />
<path d="M-2.4,-2.4 C-1,-3.7 2.2,-3.7 2.3,-1.4 L2.3,3.1 L3.7,3.1 M2.3,-0.3 C-0.3,-0.8 -3.3,0 -3.3,1.7 C-3.3,3.8 0.8,3.9 2.3,2" transform="translate(466.6,48.9) scale(1.0,1.0)" />
<path d="M0,-5.3 C3.5,-5.3 3.5,5.3 0,5.3 C-3.5,5.3 -3.5,-5.3 0,-5.3 Z" transform="translate(466.6,59.8) scale(1.0,1.0)" />
<path d="M-2.9,-5.2 L-1.4,-5.2 L-1.4,5.0 L-2.9,5.0 M-1.4,1.5 C-1.4,-3.3 6.2,-3.3 6.2,1.5 C6.2,6.3 -1.4,6.3 -1.4,1.5" transform="translate(479.7,23.1) scale(1.0,1.0)" />
<path d="M-2.8,-2.9 C-2.4,-6 3.1,-5.8 2.9,-2.5 C2.7,-0.2 -3.1,2.8 -3.3,4.8 L3.3,4.8 L3.3,3.5" transform="translate(478.9,35.7) scale(1.0,1.0)" />
<path d="M3.5,-1.5 L3.5,-3.6 M3.5,-2.5 C2.5,-4 -0.4,-4.3 -2.2,-2.8 C-4.4,-0.9 -3.7,3.8 0.3,3.8 C1.8,3.8 3,3.1 3.8,2.3" transform="translate(491.2,23.1) scale(1.0,1.0)" />
<path d="M-2.8,-2.9 C-2.4,-6 3.1,-5.8 2.9,-2.5 C2.7,-0.2 -3.1,2.8 -3.3,4.8 L3.3,4.8 L3.3,3.5" transform="translate(490.9,34.6) scale(1.0,1.0)" />
<path d="M-2.4,-2.4 C-1,-3.7 2.2,-3.7 2.3,-1.4 L2.3,3.1 L3.7,3.1 M2.3,-0.3 C-0.3,-0.8 -3.3,0 -3.3,1.7 C-3.3,3.8 0.8,3.9 2.3,2" transform="translate(503.8,32.4) scale(1.0,1.0)" />
<path d="M0,-5.3 C3.5,-5.3 3.5,5.3 0,5.3 C-3.5,5.3 -3.5,-5.3 0,-5.3 Z" transform="translate(503.8,43.4) scale(1.0,1.0)" />
<path d="M-2.4,-2.4 C-1,-3.7 2.2,-3.7 2.3,-1.4 L2.3,3.1 L3.7,3.1 M2.3,-0.3 C-0.3,-0.8 -3.3,0 -3.3,1.7 C-3.3,3.8 0.8,3.9 2.3,2" transform="translate(639.6,64.2) scale(1.0,1.0)" />
<path d="M0,-5.3 C3.5,-5.3 3.5,5.3 0,5.3 C-3.5,5.3 -3.5,-5.3 0,-5.3 Z" transform="translate(639.6,75.1) scale(1.0,1.0)" />
<path d="M-2.9,-5.2 L-1.4,-5.2 L-1.4,5.0 L-2.9,5.0 M-1.4,1.5 C-1.4,-3.3 6.2,-3.3 6.2,1.5 C6.2,6.3 -1.4,6.3 -1.4,1.5" transform="translate(653.2,42.3) scale(1.0,1.0)" />
<path d="M0,-5.3 C3.5,-5.3 3.5,5.3 0,5.3 C-3.5,5.3 -3.5,-5.3 0,-5.3 Z" transform="translate(653.2,54.3) scale(1.0,1.0)" />
<path d="M3.5,-1.5 L3.5,-3.6 M3.5,-2.5 C2.5,-4 -0.4,-4.3 -2.2,-2.8 C-4.4,-0.9 -3.7,3.8 0.3,3.8 C1.8,3.8 3,3.1 3.8,2.3" transform="translate(667.7,32.4) scale(1.0,1.0)" />
<path d="M0.2,-5.3 L0.2,4.9 M0.2,-5.3 L-2.9,-3.5 M-3.3,4.9 L3.7,4.9" transform="translate(667.7,42.8) scale(1.0,1.0)" />
<path d="M1.7,-5.2 L3.2,-5.2 L3.2,5.0 L4.7,5.0 M3.2,1.5 C3.2,-3.3 -4,-3.3 -4,1.5 C-4,6.3 3.2,6.3 3.2,1.5" transform="translate(681.4,28.0) scale(1.0,1.0)" />
<path d="M0,-5.3 C3.5,-5.3 3.5,5.3 0,5.3 C-3.5,5.3 -3.5,-5.3 0,-5.3 Z" transform="translate(681.4,40.1) scale(1.0,1.0)" />
<path d="M-2.4,-2.4 C-1,-3.7 2.2,-3.7 2.3,-1.4 L2.3,3.1 L3.7,3.1 M2.3,-0.3 C-0.3,-0.8 -3.3,0 -3.3,1.7 C-3.3,3.8 0.8,3.9 2.3,2" transform="translate(95.1,284.0) scale(1.0,1.0)" />
<path d="M0,-5.3 C3.5,-5.3 3.5,5.3 0,5.3 C-3.5,5.3 -3.5,-5.3 0,-5.3 Z" transform="translate(95.1,295.0) scale(1.0,1.0)" />
<path d="M-2.9,-5.2 L-1.4,-5.2 L-1.4,5.0 L-2.9,5.0 M-1.4,1.5 C-1.4,-3.3 6.2,-3.3 6.2,1.5 C6.2,6.3 -1.4,6.3 -1.4,1.5" transform="translate(109.3,287.3) scale(1.0,1.0)" />
<path d="M0.2,-5.3 L0.2,4.9 M0.2,-5.3 L-2.9,-3.5 M-3.3,4.9 L3.7,4.9" transform="translate(109.3,299.3) scale(1.0,1.0)" />
<path d="M3.5,-1.5 L3.5,-3.6 M3.5,-2.5 C2.5,-4 -0.4,-4.3 -2.2,-2.8 C-4.4,-0.9 -3.7,3.8 0.3,3.8 C1.8,3.8 3,3.1 3.8,2.3" transform="translate(123.6,293.3) scale(1.0,1.0)" />
<path d="M0.2,-5.3 L0.2,4.9 M0.2,-5.3 L-2.9,-3.5 M-3.3,4.9 L3.7,4.9" transform="translate(123.6,304.3) scale(1.0,1.0)" />
<path d="M1.7,-5.2 L3.2,-5.2 L3.2,5.0 L4.7,5.0 M3.2,1.5 C3.2,-3.3 -4,-3.3 -4,1.5 C-4,6.3 3.2,6.3 3.2,1.5" transform="translate(137.1,286.8) scale(1.0,1.0)" />
<path d="M0,-5.3 C3.5,-5.3 3.5,5.3 0,5.3 C-3.5,5.3 -3.5,-5.3 0,-5.3 Z" transform="translate(137.1,298.8) scale(1.0,1.0)" />
<path d="M-2.4,-2.4 C-1,-3.7 2.2,-3.7 2.3,-1.4 L2.3,3.1 L3.7,3.1 M2.3,-0.3 C-0.3,-0.8 -3.3,0 -3.3,1.7 C-3.3,3.8 0.8,3.9 2.3,2" transform="translate(284.4,302.5) scale(1.0,1.0)" />
<path d="M0.2,-5.3 L0.2,4.9 M0.2,-5.3 L-2.9,-3.5 M-3.3,4.9 L3.7,4.9" transform="translate(284.4,313.0) scale(1.0,1.0)" />
<path d="M-2.9,-5.2 L-1.4,-5.2 L-1.4,5.0 L-2.9,5.0 M-1.4,1.5 C-1.4,-3.3 6.2,-3.3 6.2,1.5 C6.2,6.3 -1.4,6.3 -1.4,1.5" transform="translate(297.5,288.6) scale(1.0,1.0)" />
<path d="M0,-5.3 C3.5,-5.3 3.5,5.3 0,5.3 C-3.5,5.3 -3.5,-5.3 0,-5.3 Z" transform="translate(296.8,300.1) scale(1.0,1.0)" />
<path d="M3.5,-1.5 L3.5,-3.6 M3.5,-2.5 C2.5,-4 -0.4,-4.3 -2.2,-2.8 C-4.4,-0.9 -3.7,3.8 0.3,3.8 C1.8,3.8 3,3.1 3.8,2.3" transform="translate(309.8,288.1) scale(1.0,1.0)" />
<path d="M-2.8,-2.9 C-2.4,-6 3.1,-5.8 2.9,-2.5 C2.7,-0.2 -3.1,2.8 -3.3,4.8 L3.3,4.8 L3.3,3.5" transform="translate(309.3,299.2) scale(1.0,1.0)" />
<path d="M1.7,-5.2 L3.2,-5.2 L3.2,5.0 L4.7,5.0 M3.2,1.5 C3.2,-3.3 -4,-3.3 -4,1.5 C-4,6.3 3.2,6.3 3.2,1.5" transform="translate(322.2,300.6) scale(1.0,1.0)" />
<path d="M0,-5.3 C3.5,-5.3 3.5,5.3 0,5.3 C-3.5,5.3 -3.5,-5.3 0,-5.3 Z" transform="translate(322.2,313.0) scale(1.0,1.0)" />
<path d="M-2.4,-2.4 C-1,-3.7 2.2,-3.7 2.3,-1.4 L2.3,3.1 L3.7,3.1 M2.3,-0.3 C-0.3,-0.8 -3.3,0 -3.3,1.7 C-3.3,3.8 0.8,3.9 2.3,2" transform="translate(457.6,304.6) scale(1.0,1.0)" />
<path d="M0,-5.3 C3.5,-5.3 3.5,5.3 0,5.3 C-3.5,5.3 -3.5,-5.3 0,-5.3 Z" transform="translate(457.6,315.5) scale(1.0,1.0)" />
<path d="M-2.4,-2.4 C-1,-3.7 2.2,-3.7 2.3,-1.4 L2.3,3.1 L3.7,3.1 M2.3,-0.3 C-0.3,-0.8 -3.3,0 -3.3,1.7 C-3.3,3.8 0.8,3.9 2.3,2" transform="translate(472.1,297.4) scale(1.0,1.0)" />
<path d="M-2.8,-2.9 C-2.4,-6 3.1,-5.8 2.9,-2.5 C2.7,-0.2 -3.1,2.8 -3.3,4.8 L3.3,4.8 L3.3,3.5" transform="translate(472.1,308.7) scale(1.0,1.0)" />
<path d="M-2.9,-5.2 L-1.4,-5.2 L-1.4,5.0 L-2.9,5.0 M-1.4,1.5 C-1.4,-3.3 6.2,-3.3 6.2,1.5 C6.2,6.3 -1.4,6.3 -1.4,1.5" transform="translate(486.2,298.4) scale(1.0,1.0)" />
<path d="M-2.8,-2.9 C-2.4,-6 3.1,-5.8 2.9,-2.5 C2.7,-0.2 -3.1,2.8 -3.3,4.8 L3.3,4.8 L3.3,3.5" transform="translate(486.2,311.3) scale(1.0,1.0)" />
<path d="M3.5,-1.5 L3.5,-3.6 M3.5,-2.5 C2.5,-4 -0.4,-4.3 -2.2,-2.8 C-4.4,-0.9 -3.7,3.8 0.3,3.8 C1.8,3.8 3,3.1 3.8,2.3" transform="translate(500.1,305.6) scale(1.0,1.0)" />
<path d="M0,-5.3 C3.5,-5.3 3.5,5.3 0,5.3 C-3.5,5.3 -3.5,-5.3 0,-5.3 Z" transform="translate(500.1,316.6) scale(1.0,1.0)" />
<path d="M-2.4,-2.4 C-1,-3.7 2.2,-3.7 2.3,-1.4 L2.3,3.1 L3.7,3.1 M2.3,-0.3 C-0.3,-0.8 -3.3,0 -3.3,1.7 C-3.3,3.8 0.8,3.9 2.3,2" transform="translate(639.1,487.0) scale(1.0,1.0)" />
<path d="M-2.9,-3.4 C-1.7,-5.6 3,-5.4 2.8,-2.5 C2.7,-0.8 1.1,-0.4 -0.5,-0.4 C1.5,-0.4 3.4,0.5 3.4,2.3 C3.4,5.6 -2.1,5.8 -3.4,3.6" transform="translate(639.1,497.6) scale(1.0,1.0)" />
<path d="M-2.9,-5.2 L-1.4,-5.2 L-1.4,5.0 L-2.9,5.0 M-1.4,1.5 C-1.4,-3.3 6.2,-3.3 6.2,1.5 C6.2,6.3 -1.4,6.3 -1.4,1.5" transform="translate(653.2,491.3) scale(1.0,1.0)" />
<path d="M-2.8,-2.9 C-2.4,-6 3.1,-5.8 2.9,-2.5 C2.7,-0.2 -3.1,2.8 -3.3,4.8 L3.3,4.8 L3.3,3.5" transform="translate(653.2,504.3) scale(1.0,1.0)" />
<path d="M3.5,-1.5 L3.5,-3.6 M3.5,-2.5 C2.5,-4 -0.4,-4.3 -2.2,-2.8 C-4.4,-0.9 -3.7,3.8 0.3,3.8 C1.8,3.8 3,3.1 3.8,2.3" transform="translate(667.6,499.0) scale(1.0,1.0)" />
<path d="M-2.8,-2.9 C-2.4,-6 3.1,-5.8 2.9,-2.5 C2.7,-0.2 -3.1,2.8 -3.3,4.8 L3.3,4.8 L3.3,3.5" transform="translate(667.6,510.0) scale(1.0,1.0)" />
<path d="M-2.9,-5.2 L-1.4,-5.2 L-1.4,5.0 L-2.9,5.0 M-1.4,1.5 C-1.4,-3.3 6.2,-3.3 6.2,1.5 C6.2,6.3 -1.4,6.3 -1.4,1.5" transform="translate(681.5,512.4) scale(1.0,1.0)" />
<path d="M3.5,-1.5 L3.5,-3.6 M3.5,-2.5 C2.5,-4 -0.4,-4.3 -2.2,-2.8 C-4.4,-0.9 -3.7,3.8 0.3,3.8 C1.8,3.8 3,3.1 3.8,2.3" transform="translate(681.5,525.3) scale(1.0,1.0)" />
<path d="M0,-5.3 C3.5,-5.3 3.5,5.3 0,5.3 C-3.5,5.3 -3.5,-5.3 0,-5.3 Z" transform="translate(681.5,535.4) scale(1.0,1.0)" />
<path d="M-2.4,-2.4 C-1,-3.7 2.2,-3.7 2.3,-1.4 L2.3,3.1 L3.7,3.1 M2.3,-0.3 C-0.3,-0.8 -3.3,0 -3.3,1.7 C-3.3,3.8 0.8,3.9 2.3,2" transform="translate(102.9,593.4) scale(1.0,1.0)" />
<path d="M0,-5.3 C3.5,-5.3 3.5,5.3 0,5.3 C-3.5,5.3 -3.5,-5.3 0,-5.3 Z" transform="translate(102.9,603.5) scale(1.0,1.0)" />
<path d="M-2.9,-5.2 L-1.4,-5.2 L-1.4,5.0 L-2.9,5.0 M-1.4,1.5 C-1.4,-3.3 6.2,-3.3 6.2,1.5 C6.2,6.3 -1.4,6.3 -1.4,1.5" transform="translate(115.7,596.3) scale(1.0,1.0)" />
<path d="M0,-5.3 C3.5,-5.3 3.5,5.3 0,5.3 C-3.5,5.3 -3.5,-5.3 0,-5.3 Z" transform="translate(115.7,607.8) scale(1.0,1.0)" />
<path d="M3.5,-1.5 L3.5,-3.6 M3.5,-2.5 C2.5,-4 -0.4,-4.3 -2.2,-2.8 C-4.4,-0.9 -3.7,3.8 0.3,3.8 C1.8,3.8 3,3.1 3.8,2.3" transform="translate(128.0,602.5) scale(1.0,1.0)" />
<path d="M0.2,-5.3 L0.2,4.9 M0.2,-5.3 L-2.9,-3.5 M-3.3,4.9 L3.7,4.9" transform="translate(128.0,613.5) scale(1.0,1.0)" />
<path d="M1.7,-5.2 L3.2,-5.2 L3.2,5.0 L4.7,5.0 M3.2,1.5 C3.2,-3.3 -4,-3.3 -4,1.5 C-4,6.3 3.2,6.3 3.2,1.5" transform="translate(141.2,589.6) scale(1.0,1.0)" />
<path d="M-2.9,-3.4 C-1.7,-5.6 3,-5.4 2.8,-2.5 C2.7,-0.8 1.1,-0.4 -0.5,-0.4 C1.5,-0.4 3.4,0.5 3.4,2.3 C3.4,5.6 -2.1,5.8 -3.4,3.6" transform="translate(141.2,600.6) scale(1.0,1.0)" />
<path d="M-2.4,-2.4 C-1,-3.7 2.2,-3.7 2.3,-1.4 L2.3,3.1 L3.7,3.1 M2.3,-0.3 C-0.3,-0.8 -3.3,0 -3.3,1.7 C-3.3,3.8 0.8,3.9 2.3,2" transform="translate(284.2,654.4) scale(1.0,1.0)" />
<path d="M-2.9,-3.4 C-1.7,-5.6 3,-5.4 2.8,-2.5 C2.7,-0.8 1.1,-0.4 -0.5,-0.4 C1.5,-0.4 3.4,0.5 3.4,2.3 C3.4,5.6 -2.1,5.8 -3.4,3.6" transform="translate(284.2,665.4) scale(1.0,1.0)" />
<path d="M-2.9,-5.2 L-1.4,-5.2 L-1.4,5.0 L-2.9,5.0 M-1.4,1.5 C-1.4,-3.3 6.2,-3.3 6.2,1.5 C6.2,6.3 -1.4,6.3 -1.4,1.5" transform="translate(297.0,586.3) scale(1.0,1.0)" />
<path d="M0,-5.3 C3.5,-5.3 3.5,5.3 0,5.3 C-3.5,5.3 -3.5,-5.3 0,-5.3 Z" transform="translate(297.0,598.5) scale(1.0,1.0)" />
<path d="M3.5,-1.5 L3.5,-3.6 M3.5,-2.5 C2.5,-4 -0.4,-4.3 -2.2,-2.8 C-4.4,-0.9 -3.7,3.8 0.3,3.8 C1.8,3.8 3,3.1 3.8,2.3" transform="translate(309.3,620.3) scale(1.0,1.0)" />
<path d="M0,-5.3 C3.5,-5.3 3.5,5.3 0,5.3 C-3.5,5.3 -3.5,-5.3 0,-5.3 Z" transform="translate(309.3,630.8) scale(1.0,1.0)" />
<path d="M1.7,-5.2 L3.2,-5.2 L3.2,5.0 L4.7,5.0 M3.2,1.5 C3.2,-3.3 -4,-3.3 -4,1.5 C-4,6.3 3.2,6.3 3.2,1.5" transform="translate(322.7,616.4) scale(1.0,1.0)" />
<path d="M0,-5.3 C3.5,-5.3 3.5,5.3 0,5.3 C-3.5,5.3 -3.5,-5.3 0,-5.3 Z" transform="translate(322.7,628.4) scale(1.0,1.0)" />
<path d="M-2.4,-2.4 C-1,-3.7 2.2,-3.7 2.3,-1.4 L2.3,3.1 L3.7,3.1 M2.3,-0.3 C-0.3,-0.8 -3.3,0 -3.3,1.7 C-3.3,3.8 0.8,3.9 2.3,2" transform="translate(465.8,581.5) scale(1.0,1.0)" />
<path d="M0,-5.3 C3.5,-5.3 3.5,5.3 0,5.3 C-3.5,5.3 -3.5,-5.3 0,-5.3 Z" transform="translate(465.8,591.5) scale(1.0,1.0)" />
<path d="M-2.4,-2.4 C-1,-3.7 2.2,-3.7 2.3,-1.4 L2.3,3.1 L3.7,3.1 M2.3,-0.3 C-0.3,-0.8 -3.3,0 -3.3,1.7 C-3.3,3.8 0.8,3.9 2.3,2" transform="translate(478.1,581.5) scale(1.0,1.0)" />
<path d="M0,-5.3 C3.5,-5.3 3.5,5.3 0,5.3 C-3.5,5.3 -3.5,-5.3 0,-5.3 Z" transform="translate(478.1,591.5) scale(1.0,1.0)" />
<path d="M-2.9,-5.2 L-1.4,-5.2 L-1.4,5.0 L-2.9,5.0 M-1.4,1.5 C-1.4,-3.3 6.2,-3.3 6.2,1.5 C6.2,6.3 -1.4,6.3 -1.4,1.5" transform="translate(490.7,579.6) scale(1.0,1.0)" />
<path d="M-2.8,-2.9 C-2.4,-6 3.1,-5.8 2.9,-2.5 C2.7,-0.2 -3.1,2.8 -3.3,4.8 L3.3,4.8 L3.3,3.5" transform="translate(490.7,592.5) scale(1.0,1.0)" />
<path d="M3.5,-1.5 L3.5,-3.6 M3.5,-2.5 C2.5,-4 -0.4,-4.3 -2.2,-2.8 C-4.4,-0.9 -3.7,3.8 0.3,3.8 C1.8,3.8 3,3.1 3.8,2.3" transform="translate(503.9,584.4) scale(1.0,1.0)" />
<path d="M-2.9,-3.4 C-1.7,-5.6 3,-5.4 2.8,-2.5 C2.7,-0.8 1.1,-0.4 -0.5,-0.4 C1.5,-0.4 3.4,0.5 3.4,2.3 C3.4,5.6 -2.1,5.8 -3.4,3.6" transform="translate(503.9,595.1) scale(1.0,1.0)" />
<path d="M-2.4,-2.4 C-1,-3.7 2.2,-3.7 2.3,-1.4 L2.3,3.1 L3.7,3.1 M2.3,-0.3 C-0.3,-0.8 -3.3,0 -3.3,1.7 C-3.3,3.8 0.8,3.9 2.3,2" transform="translate(237.4,893.5) scale(1.0,1.0)" />
<path d="M0,-5.3 C3.5,-5.3 3.5,5.3 0,5.3 C-3.5,5.3 -3.5,-5.3 0,-5.3 Z" transform="translate(237.4,904.0) scale(1.0,1.0)" />
<path d="M-2.4,-2.4 C-1,-3.7 2.2,-3.7 2.3,-1.4 L2.3,3.1 L3.7,3.1 M2.3,-0.3 C-0.3,-0.8 -3.3,0 -3.3,1.7 C-3.3,3.8 0.8,3.9 2.3,2" transform="translate(251.0,879.6) scale(1.0,1.0)" />
<path d="M0,-5.3 C3.5,-5.3 3.5,5.3 0,5.3 C-3.5,5.3 -3.5,-5.3 0,-5.3 Z" transform="translate(251.0,889.2) scale(1.0,1.0)" />
<path d="M-2.9,-5.2 L-1.4,-5.2 L-1.4,5.0 L-2.9,5.0 M-1.4,1.5 C-1.4,-3.3 6.2,-3.3 6.2,1.5 C6.2,6.3 -1.4,6.3 -1.4,1.5" transform="translate(264.7,879.1) scale(1.0,1.0)" />
<path d="M0,-5.3 C3.5,-5.3 3.5,5.3 0,5.3 C-3.5,5.3 -3.5,-5.3 0,-5.3 Z" transform="translate(264.7,890.6) scale(1.0,1.0)" />
<path d="M3.5,-1.5 L3.5,-3.6 M3.5,-2.5 C2.5,-4 -0.4,-4.3 -2.2,-2.8 C-4.4,-0.9 -3.7,3.8 0.3,3.8 C1.8,3.8 3,3.1 3.8,2.3" transform="translate(277.7,897.3) scale(1.0,1.0)" />
<path d="M-2.8,-2.9 C-2.4,-6 3.1,-5.8 2.9,-2.5 C2.7,-0.2 -3.1,2.8 -3.3,4.8 L3.3,4.8 L3.3,3.5" transform="translate(277.7,907.8) scale(1.0,1.0)" />
<path d="M-2.4,-2.4 C-1,-3.7 2.2,-3.7 2.3,-1.4 L2.3,3.1 L3.7,3.1 M2.3,-0.3 C-0.3,-0.8 -3.3,0 -3.3,1.7 C-3.3,3.8 0.8,3.9 2.3,2" transform="translate(418.9,924.1) scale(1.0,1.0)" />
<path d="M0,-5.3 C3.5,-5.3 3.5,5.3 0,5.3 C-3.5,5.3 -3.5,-5.3 0,-5.3 Z" transform="translate(418.9,934.2) scale(1.0,1.0)" />
<path d="M-2.4,-2.4 C-1,-3.7 2.2,-3.7 2.3,-1.4 L2.3,3.1 L3.7,3.1 M2.3,-0.3 C-0.3,-0.8 -3.3,0 -3.3,1.7 C-3.3,3.8 0.8,3.9 2.3,2" transform="translate(429.9,904.0) scale(1.0,1.0)" />
<path d="M0,-5.3 C3.5,-5.3 3.5,5.3 0,5.3 C-3.5,5.3 -3.5,-5.3 0,-5.3 Z" transform="translate(429.9,914.2) scale(1.0,1.0)" />
<path d="M-2.9,-5.2 L-1.4,-5.2 L-1.4,5.0 L-2.9,5.0 M-1.4,1.5 C-1.4,-3.3 6.2,-3.3 6.2,1.5 C6.2,6.3 -1.4,6.3 -1.4,1.5" transform="translate(441.7,900.6) scale(1.0,1.0)" />
<path d="M0,-5.3 C3.5,-5.3 3.5,5.3 0,5.3 C-3.5,5.3 -3.5,-5.3 0,-5.3 Z" transform="translate(441.7,912.1) scale(1.0,1.0)" />
<path d="M3.5,-1.5 L3.5,-3.6 M3.5,-2.5 C2.5,-4 -0.4,-4.3 -2.2,-2.8 C-4.4,-0.9 -3.7,3.8 0.3,3.8 C1.8,3.8 3,3.1 3.8,2.3" transform="translate(454.5,876.2) scale(1.0,1.0)" />
<path d="M-2.8,-2.9 C-2.4,-6 3.1,-5.8 2.9,-2.5 C2.7,-0.2 -3.1,2.8 -3.3,4.8 L3.3,4.8 L3.3,3.5" transform="translate(454.5,887.2) scale(1.0,1.0)" /></g>
</svg></body></html>
